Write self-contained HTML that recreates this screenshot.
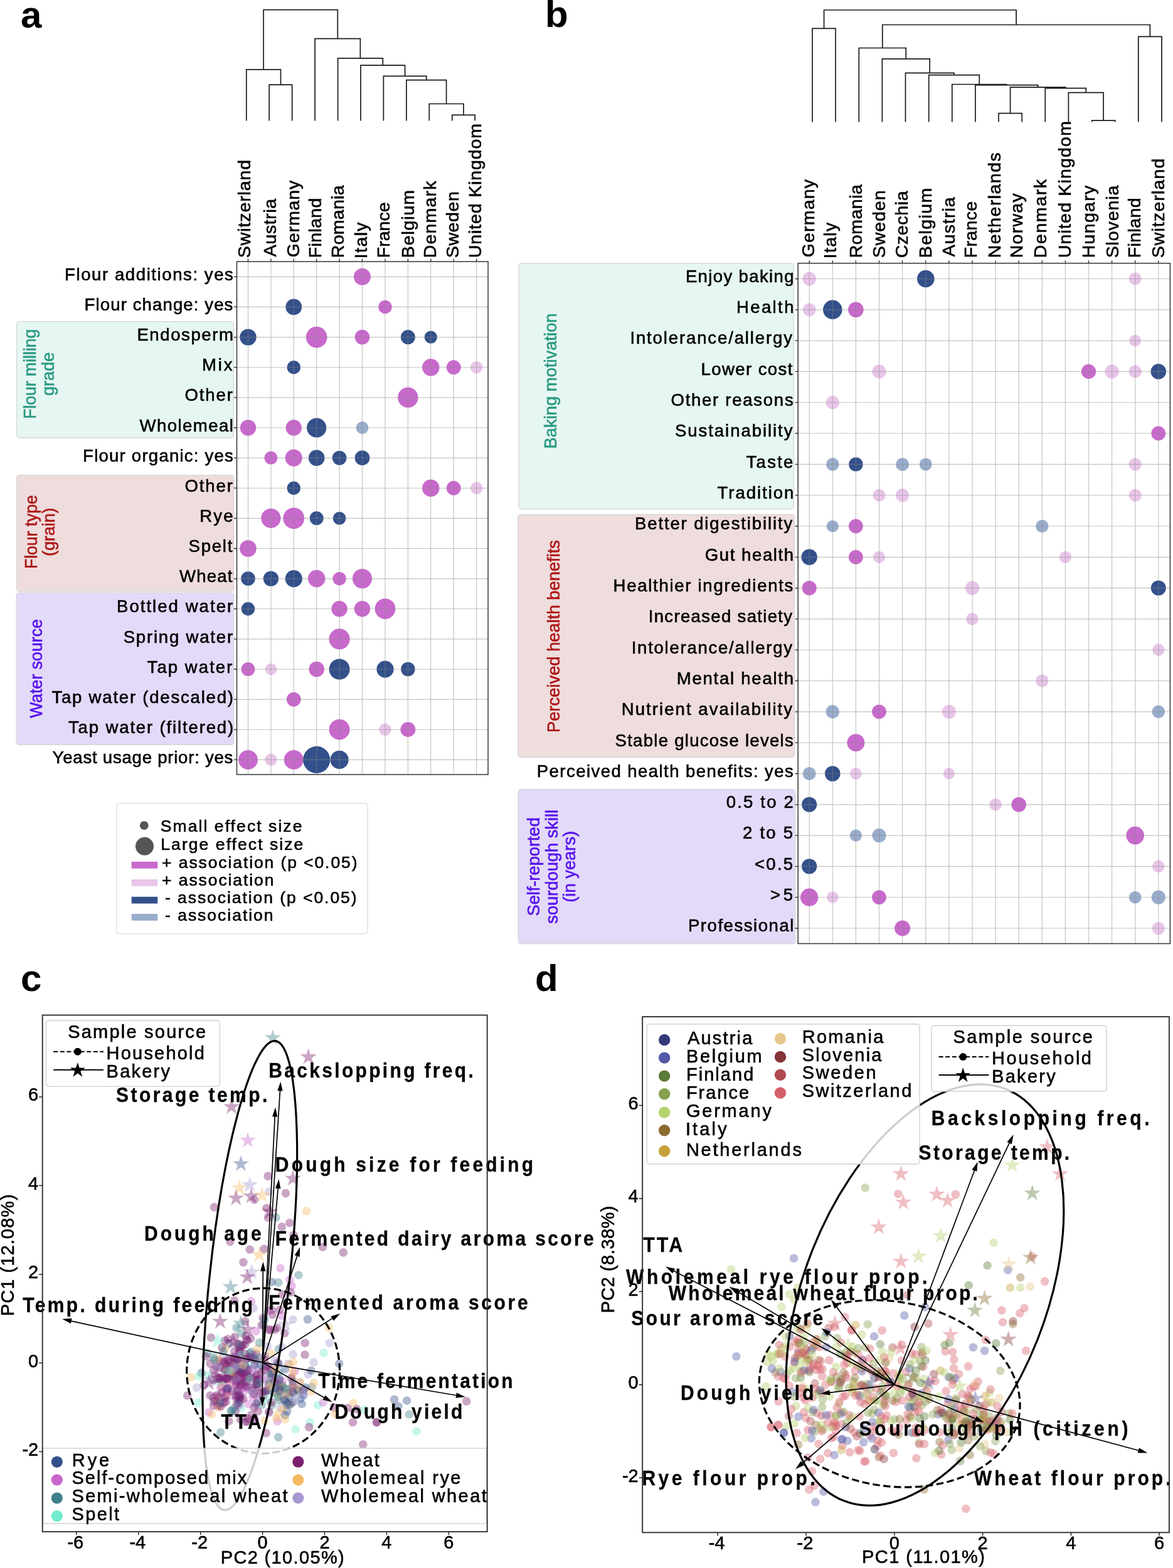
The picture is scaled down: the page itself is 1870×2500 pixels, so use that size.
<!DOCTYPE html>
<html><head><meta charset="utf-8"><title>Figure</title>
<style>html,body{margin:0;padding:0;background:#fff;} svg{display:block;} text{font-family:'Liberation Sans', Arial, sans-serif;stroke:#000;stroke-width:0.6px;} text.b{stroke-width:0.3px;} text.nb{stroke:none;} text.g1{stroke:#2a9a82;} text.g2{stroke:#ad1616;} text.g3{stroke:#5812ef;}</style>
</head><body>
<svg width="1870" height="2500" viewBox="0 0 1870 2500" font-family="Liberation Sans, Arial, sans-serif">
<rect width="1870" height="2500" fill="#fff"/>
<path d="M429.2,192.5V135.1H465.7V192.5 M392.8,192.5V110.8H447.5V135.1 M720.8,192.5V183.4H757.2V192.5 M684.3,192.5V165.5H739.0V183.4 M647.9,192.5V127.6H711.6V165.5 M611.4,192.5V121.4H679.8V127.6 M575.0,192.5V104.1H645.6V121.4 M538.6,192.5V92.9H610.3V104.1 M502.1,192.5V61.7H574.4V92.9 M420.1,110.8V15.6H538.3V61.7" fill="none" stroke="#1a1a1a" stroke-width="1.7"/>
<rect x="26.6" y="512.7" width="345.8" height="185.4" rx="4" fill="#e6f6f3" stroke="#d4d4d4" stroke-width="1.2"/>
<text class="g1" transform="translate(56.8,596.3) rotate(-90)" text-anchor="middle" font-size="27.6" fill="#2a9a82" textLength="143.3" lengthAdjust="spacingAndGlyphs">Flour milling</text>
<text class="g1" transform="translate(85.7,596.3) rotate(-90)" text-anchor="middle" font-size="27.6" fill="#2a9a82" textLength="69.5" lengthAdjust="spacingAndGlyphs">grade</text>
<rect x="26.6" y="757.5" width="346.0" height="185.4" rx="4" fill="#efdcdd" stroke="#d4d4d4" stroke-width="1.2"/>
<text class="g2" transform="translate(59.1,848.1) rotate(-90)" text-anchor="middle" font-size="27.6" fill="#ad1616" textLength="117.8" lengthAdjust="spacingAndGlyphs">Flour type</text>
<text class="g2" transform="translate(87.1,848.1) rotate(-90)" text-anchor="middle" font-size="27.6" fill="#ad1616" textLength="77.1" lengthAdjust="spacingAndGlyphs">(grain)</text>
<rect x="26.1" y="945.2" width="346.5" height="242.2" rx="4" fill="#e3dafa" stroke="#d4d4d4" stroke-width="1.2"/>
<text class="g3" transform="translate(66.8,1066) rotate(-90)" text-anchor="middle" font-size="27.6" fill="#5812ef" textLength="157.7" lengthAdjust="spacingAndGlyphs">Water source</text>
<circle cx="577.5" cy="441.3" r="13.5" fill="#c869cc"/><circle cx="468.3" cy="489.4" r="12.9" fill="#33508a"/><circle cx="614.0" cy="489.4" r="10.7" fill="#c869cc"/><circle cx="395.5" cy="537.6" r="13.2" fill="#33508a"/><circle cx="504.7" cy="537.6" r="16.9" fill="#c869cc"/><circle cx="577.5" cy="537.6" r="11.8" fill="#c869cc"/><circle cx="650.4" cy="537.6" r="11.5" fill="#33508a"/><circle cx="686.8" cy="537.6" r="10.2" fill="#33508a"/><circle cx="468.3" cy="585.7" r="10.7" fill="#33508a"/><circle cx="686.8" cy="585.7" r="13.7" fill="#c869cc"/><circle cx="723.2" cy="585.7" r="11.4" fill="#c869cc"/><circle cx="759.6" cy="585.7" r="9.8" fill="#e8c6e8"/><circle cx="650.4" cy="633.8" r="16.2" fill="#c869cc"/><circle cx="395.5" cy="682.0" r="12.7" fill="#c869cc"/><circle cx="468.3" cy="682.0" r="12.7" fill="#c869cc"/><circle cx="504.7" cy="682.0" r="15.6" fill="#33508a"/><circle cx="577.5" cy="682.0" r="9.9" fill="#99adcc"/><circle cx="431.9" cy="730.1" r="10.5" fill="#c869cc"/><circle cx="468.3" cy="730.1" r="13.6" fill="#c869cc"/><circle cx="504.7" cy="730.1" r="12.8" fill="#33508a"/><circle cx="541.1" cy="730.1" r="11.4" fill="#33508a"/><circle cx="577.5" cy="730.1" r="11.9" fill="#33508a"/><circle cx="468.3" cy="778.2" r="10.7" fill="#33508a"/><circle cx="686.8" cy="778.2" r="13.7" fill="#c869cc"/><circle cx="723.2" cy="778.2" r="11.4" fill="#c869cc"/><circle cx="759.6" cy="778.2" r="9.8" fill="#e8c6e8"/><circle cx="431.9" cy="826.3" r="15.6" fill="#c869cc"/><circle cx="468.3" cy="826.3" r="16.9" fill="#c869cc"/><circle cx="504.7" cy="826.3" r="11.0" fill="#33508a"/><circle cx="541.1" cy="826.3" r="10.4" fill="#33508a"/><circle cx="395.5" cy="874.5" r="13.3" fill="#c869cc"/><circle cx="395.5" cy="922.6" r="11.3" fill="#33508a"/><circle cx="431.9" cy="922.6" r="12.2" fill="#33508a"/><circle cx="468.3" cy="922.6" r="13.6" fill="#33508a"/><circle cx="504.7" cy="922.6" r="13.8" fill="#c869cc"/><circle cx="541.1" cy="922.6" r="10.7" fill="#c869cc"/><circle cx="577.5" cy="922.6" r="15.6" fill="#c869cc"/><circle cx="395.5" cy="970.7" r="10.7" fill="#33508a"/><circle cx="541.1" cy="970.7" r="12.7" fill="#c869cc"/><circle cx="577.5" cy="970.7" r="12.7" fill="#c869cc"/><circle cx="614.0" cy="970.7" r="16.4" fill="#c869cc"/><circle cx="541.1" cy="1018.9" r="16.6" fill="#c869cc"/><circle cx="395.5" cy="1067.0" r="10.9" fill="#c869cc"/><circle cx="431.9" cy="1067.0" r="9.3" fill="#e8c6e8"/><circle cx="504.7" cy="1067.0" r="12.3" fill="#c869cc"/><circle cx="541.1" cy="1067.0" r="16.5" fill="#33508a"/><circle cx="614.0" cy="1067.0" r="13.6" fill="#33508a"/><circle cx="650.4" cy="1067.0" r="11.2" fill="#33508a"/><circle cx="468.3" cy="1115.1" r="11.4" fill="#c869cc"/><circle cx="541.1" cy="1163.2" r="16.4" fill="#c869cc"/><circle cx="614.0" cy="1163.2" r="9.8" fill="#e8c6e8"/><circle cx="650.4" cy="1163.2" r="11.9" fill="#c869cc"/><circle cx="395.5" cy="1211.4" r="15.4" fill="#c869cc"/><circle cx="431.9" cy="1211.4" r="9.6" fill="#e8c6e8"/><circle cx="468.3" cy="1211.4" r="15.5" fill="#c869cc"/><circle cx="504.7" cy="1211.4" r="21.6" fill="#33508a"/><circle cx="541.1" cy="1211.4" r="14.6" fill="#33508a"/>
<path d="M395.5,417.1V1234.9 M431.9,417.1V1234.9 M468.3,417.1V1234.9 M504.7,417.1V1234.9 M541.1,417.1V1234.9 M577.5,417.1V1234.9 M614.0,417.1V1234.9 M650.4,417.1V1234.9 M686.8,417.1V1234.9 M723.2,417.1V1234.9 M759.6,417.1V1234.9 M377.5,441.3H778.1 M377.5,489.4H778.1 M377.5,537.6H778.1 M377.5,585.7H778.1 M377.5,633.8H778.1 M377.5,682.0H778.1 M377.5,730.1H778.1 M377.5,778.2H778.1 M377.5,826.3H778.1 M377.5,874.5H778.1 M377.5,922.6H778.1 M377.5,970.7H778.1 M377.5,1018.9H778.1 M377.5,1067.0H778.1 M377.5,1115.1H778.1 M377.5,1163.2H778.1 M377.5,1211.4H778.1" stroke="#878787" stroke-opacity="0.5" stroke-width="1.15" fill="none"/>
<path d="M373.0,441.3H377.5 M373.0,489.4H377.5 M373.0,537.6H377.5 M373.0,585.7H377.5 M373.0,633.8H377.5 M373.0,682.0H377.5 M373.0,730.1H377.5 M373.0,778.2H377.5 M373.0,826.3H377.5 M373.0,874.5H377.5 M373.0,922.6H377.5 M373.0,970.7H377.5 M373.0,1018.9H377.5 M373.0,1067.0H377.5 M373.0,1115.1H377.5 M373.0,1163.2H377.5 M373.0,1211.4H377.5 M395.5,412.6V417.1 M431.9,412.6V417.1 M468.3,412.6V417.1 M504.7,412.6V417.1 M541.1,412.6V417.1 M577.5,412.6V417.1 M614.0,412.6V417.1 M650.4,412.6V417.1 M686.8,412.6V417.1 M723.2,412.6V417.1 M759.6,412.6V417.1" stroke="#222" stroke-width="1.3"/>
<rect x="377.5" y="417.1" width="400.6" height="817.8" fill="none" stroke="#333" stroke-width="1.5"/>
<text x="103.1" y="446.9" font-size="27.6" textLength="268.8" lengthAdjust="spacing">Flour additions: yes</text>
<text x="134.6" y="495.0" font-size="27.6" textLength="236.8" lengthAdjust="spacing">Flour change: yes</text>
<text x="218.4" y="543.2" font-size="27.6" textLength="153.6" lengthAdjust="spacing">Endosperm</text>
<text x="321.9" y="591.3" font-size="27.6" textLength="48.6" lengthAdjust="spacing">Mix</text>
<text x="294.4" y="639.4" font-size="27.6" textLength="76.6" lengthAdjust="spacing">Other</text>
<text x="222.4" y="687.6" font-size="27.6" textLength="149.6" lengthAdjust="spacing">Wholemeal</text>
<text x="132.1" y="735.7" font-size="27.6" textLength="239.8" lengthAdjust="spacing">Flour organic: yes</text>
<text x="294.4" y="783.8" font-size="27.6" textLength="76.6" lengthAdjust="spacing">Other</text>
<text x="318.2" y="831.9" font-size="27.6" textLength="53.4" lengthAdjust="spacing">Rye</text>
<text x="300.6" y="880.1" font-size="27.6" textLength="69.8" lengthAdjust="spacing">Spelt</text>
<text x="285.9" y="928.2" font-size="27.6" textLength="84.6" lengthAdjust="spacing">Wheat</text>
<text x="186.0" y="976.3" font-size="27.6" textLength="185.2" lengthAdjust="spacing">Bottled water</text>
<text x="196.7" y="1024.5" font-size="27.6" textLength="174.4" lengthAdjust="spacing">Spring water</text>
<text x="234.6" y="1072.6" font-size="27.6" textLength="135.8" lengthAdjust="spacing">Tap water</text>
<text x="82.4" y="1120.7" font-size="27.6" textLength="289.6" lengthAdjust="spacing">Tap water (descaled)</text>
<text x="109.0" y="1168.8" font-size="27.6" textLength="263.2" lengthAdjust="spacing">Tap water (filtered)</text>
<text x="83.6" y="1217.0" font-size="27.6" textLength="287.8" lengthAdjust="spacing">Yeast usage prior: yes</text>
<text transform="translate(399.4,409.2) rotate(-90)" x="-2.0" font-size="28.5" textLength="156.4" lengthAdjust="spacing">Switzerland</text>
<text transform="translate(439.5,409.2) rotate(-90)" x="0.0" font-size="28.5" textLength="92.4" lengthAdjust="spacing">Austria</text>
<text transform="translate(476.7,409.2) rotate(-90)" x="-1.0" font-size="28.5" textLength="122.4" lengthAdjust="spacing">Germany</text>
<text transform="translate(512.0,409.2) rotate(-90)" x="-2.0" font-size="28.5" textLength="95.6" lengthAdjust="spacing">Finland</text>
<text transform="translate(547.9,409.2) rotate(-90)" x="-2.0" font-size="28.5" textLength="115.8" lengthAdjust="spacing">Romania</text>
<text transform="translate(584.6,409.2) rotate(-90)" x="-3.0" font-size="28.5" textLength="57.8" lengthAdjust="spacing">Italy</text>
<text transform="translate(621.1,409.2) rotate(-90)" x="-2.0" font-size="28.5" textLength="88.8" lengthAdjust="spacing">France</text>
<text transform="translate(659.5,409.2) rotate(-90)" x="-2.0" font-size="28.5" textLength="108.2" lengthAdjust="spacing">Belgium</text>
<text transform="translate(695.4,409.2) rotate(-90)" x="-2.0" font-size="28.5" textLength="122.6" lengthAdjust="spacing">Denmark</text>
<text transform="translate(731.3,409.2) rotate(-90)" x="-2.0" font-size="28.5" textLength="106.0" lengthAdjust="spacing">Sweden</text>
<text transform="translate(766.5,409.2) rotate(-90)" x="-2.0" font-size="28.5" textLength="214.2" lengthAdjust="spacing">United Kingdom</text>
<rect x="185.6" y="1280.9" width="400.6" height="207.9" rx="5" fill="#fff" stroke="#dcdcdc" stroke-width="1.3"/>
<circle cx="229.8" cy="1316.2" r="6.9" fill="#555"/><circle cx="230.5" cy="1349.2" r="14.5" fill="#555"/>
<rect x="209.7" y="1373.9" width="41.6" height="10.8" fill="#c869cc"/>
<rect x="209.7" y="1402" width="41.6" height="10.8" fill="#e8c6e8"/>
<rect x="209.7" y="1429.8" width="41.6" height="10.8" fill="#33508a"/>
<rect x="209.7" y="1457" width="41.6" height="10.8" fill="#99adcc"/>
<text x="255.8" y="1325.9" font-size="26.5" textLength="225.6" lengthAdjust="spacing" xml:space="preserve">Small effect size</text>
<text x="256.3" y="1354.6" font-size="26.5" textLength="227.0" lengthAdjust="spacing" xml:space="preserve">Large effect size</text>
<text x="258.1" y="1384.3" font-size="26.5" textLength="311.4" lengthAdjust="spacing" xml:space="preserve">+ association (p &lt;0.05)</text>
<text x="258.1" y="1412.1" font-size="26.5" textLength="178.4" lengthAdjust="spacing" xml:space="preserve">+ association</text>
<text x="263.0" y="1440.2" font-size="26.5" textLength="305.6" lengthAdjust="spacing" xml:space="preserve">- association (p &lt;0.05)</text>
<text x="263.0" y="1467.5" font-size="26.5" textLength="172.6" lengthAdjust="spacing" xml:space="preserve">- association</text>
<path d="M1740.6,194.5V192.1H1777.7V194.5 M1592.0,194.5V180.7H1629.2V194.5 M1703.4,194.5V147.6H1759.1V192.1 M1666.3,194.5V140.6H1731.3V147.6 M1610.6,180.7V139.1H1698.8V140.6 M1554.9,194.5V135.7H1654.7V139.1 M1517.8,194.5V134.5H1604.8V135.7 M1480.7,194.5V119.7H1561.3V134.5 M1443.5,194.5V116.4H1521.0V119.7 M1406.4,194.5V93.9H1482.2V116.4 M1369.3,194.5V76.5H1444.3V93.9 M1814.8,194.5V58.4H1852.0V194.5 M1295.0,194.5V45.3H1332.1V194.5 M1406.8,76.5V39.5H1833.4V58.4 M1313.6,45.3V16.0H1620.1V39.5" fill="none" stroke="#1a1a1a" stroke-width="1.7"/>
<rect x="827.1" y="419.9" width="438.2" height="391.7" rx="4" fill="#e6f6f3" stroke="#d4d4d4" stroke-width="1.2"/>
<text class="g1" transform="translate(886.8,607.4) rotate(-90)" text-anchor="middle" font-size="27.6" fill="#2a9a82" textLength="216.0" lengthAdjust="spacingAndGlyphs">Baking motivation</text>
<rect x="825.7" y="820.4" width="440.8" height="387.2" rx="4" fill="#efdcdd" stroke="#d4d4d4" stroke-width="1.2"/>
<text class="g2" transform="translate(892.0,1014.5) rotate(-90)" text-anchor="middle" font-size="27.6" fill="#ad1616" textLength="307.1" lengthAdjust="spacingAndGlyphs">Perceived health benefits</text>
<rect x="826.2" y="1258.7" width="441.4" height="246.0" rx="4" fill="#e3dafa" stroke="#d4d4d4" stroke-width="1.2"/>
<text class="g3" transform="translate(860.2,1381.8) rotate(-90)" text-anchor="middle" font-size="27.6" fill="#5812ef" textLength="157.3" lengthAdjust="spacingAndGlyphs">Self-reported</text>
<text class="g3" transform="translate(888.8,1381.8) rotate(-90)" text-anchor="middle" font-size="27.6" fill="#5812ef" textLength="181.8" lengthAdjust="spacingAndGlyphs">sourdough skill</text>
<text class="g3" transform="translate(916.8,1381.8) rotate(-90)" text-anchor="middle" font-size="27.6" fill="#5812ef" textLength="113.9" lengthAdjust="spacingAndGlyphs">(in years)</text>
<circle cx="1290.2" cy="444.5" r="10.9" fill="#e8c6e8"/><circle cx="1475.8" cy="444.5" r="13.8" fill="#33508a"/><circle cx="1809.7" cy="444.5" r="10.0" fill="#e8c6e8"/><circle cx="1290.2" cy="493.8" r="10.5" fill="#e8c6e8"/><circle cx="1327.3" cy="493.8" r="15.2" fill="#33508a"/><circle cx="1364.4" cy="493.8" r="12.3" fill="#c869cc"/><circle cx="1809.7" cy="543.1" r="9.4" fill="#e8c6e8"/><circle cx="1401.5" cy="592.4" r="11.1" fill="#e8c6e8"/><circle cx="1735.5" cy="592.4" r="11.6" fill="#c869cc"/><circle cx="1772.6" cy="592.4" r="11.2" fill="#e8c6e8"/><circle cx="1809.7" cy="592.4" r="10.2" fill="#e8c6e8"/><circle cx="1846.8" cy="592.4" r="12.3" fill="#33508a"/><circle cx="1327.3" cy="641.7" r="10.7" fill="#e8c6e8"/><circle cx="1846.8" cy="691.0" r="11.4" fill="#c869cc"/><circle cx="1327.3" cy="740.4" r="10.3" fill="#99adcc"/><circle cx="1364.4" cy="740.4" r="11.2" fill="#33508a"/><circle cx="1438.6" cy="740.4" r="10.5" fill="#99adcc"/><circle cx="1475.8" cy="740.4" r="10.0" fill="#99adcc"/><circle cx="1809.7" cy="740.4" r="10.2" fill="#e8c6e8"/><circle cx="1401.5" cy="789.7" r="10.0" fill="#e8c6e8"/><circle cx="1438.6" cy="789.7" r="10.7" fill="#e8c6e8"/><circle cx="1809.7" cy="789.7" r="10.2" fill="#e8c6e8"/><circle cx="1327.3" cy="839.0" r="9.6" fill="#99adcc"/><circle cx="1364.4" cy="839.0" r="11.4" fill="#c869cc"/><circle cx="1661.3" cy="839.0" r="10.2" fill="#99adcc"/><circle cx="1290.2" cy="888.3" r="12.7" fill="#33508a"/><circle cx="1364.4" cy="888.3" r="11.4" fill="#c869cc"/><circle cx="1401.5" cy="888.3" r="9.6" fill="#e8c6e8"/><circle cx="1698.4" cy="888.3" r="9.6" fill="#e8c6e8"/><circle cx="1290.2" cy="937.6" r="11.6" fill="#c869cc"/><circle cx="1550.0" cy="937.6" r="11.2" fill="#e8c6e8"/><circle cx="1846.8" cy="937.6" r="12.0" fill="#33508a"/><circle cx="1550.0" cy="986.9" r="9.8" fill="#e8c6e8"/><circle cx="1846.8" cy="1036.2" r="9.6" fill="#e8c6e8"/><circle cx="1661.3" cy="1085.5" r="10.2" fill="#e8c6e8"/><circle cx="1327.3" cy="1134.8" r="10.7" fill="#99adcc"/><circle cx="1401.5" cy="1134.8" r="11.4" fill="#c869cc"/><circle cx="1512.9" cy="1134.8" r="11.1" fill="#e8c6e8"/><circle cx="1846.8" cy="1134.8" r="10.3" fill="#99adcc"/><circle cx="1364.4" cy="1184.2" r="14.0" fill="#c869cc"/><circle cx="1290.2" cy="1233.5" r="10.5" fill="#99adcc"/><circle cx="1327.3" cy="1233.5" r="12.3" fill="#33508a"/><circle cx="1364.4" cy="1233.5" r="9.4" fill="#e8c6e8"/><circle cx="1512.9" cy="1233.5" r="9.2" fill="#e8c6e8"/><circle cx="1290.2" cy="1282.8" r="12.1" fill="#33508a"/><circle cx="1587.1" cy="1282.8" r="9.8" fill="#e8c6e8"/><circle cx="1624.2" cy="1282.8" r="11.8" fill="#c869cc"/><circle cx="1364.4" cy="1332.1" r="9.6" fill="#99adcc"/><circle cx="1401.5" cy="1332.1" r="11.1" fill="#99adcc"/><circle cx="1809.7" cy="1332.1" r="14.3" fill="#c869cc"/><circle cx="1290.2" cy="1381.4" r="12.1" fill="#33508a"/><circle cx="1846.8" cy="1381.4" r="9.8" fill="#e8c6e8"/><circle cx="1290.2" cy="1430.7" r="14.1" fill="#c869cc"/><circle cx="1327.3" cy="1430.7" r="9.4" fill="#e8c6e8"/><circle cx="1401.5" cy="1430.7" r="11.4" fill="#c869cc"/><circle cx="1809.7" cy="1430.7" r="9.8" fill="#99adcc"/><circle cx="1846.8" cy="1430.7" r="11.1" fill="#99adcc"/><circle cx="1438.6" cy="1480.0" r="12.5" fill="#c869cc"/><circle cx="1846.8" cy="1480.0" r="10.3" fill="#e8c6e8"/>
<path d="M1290.2,419.7V1504.5 M1327.3,419.7V1504.5 M1364.4,419.7V1504.5 M1401.5,419.7V1504.5 M1438.6,419.7V1504.5 M1475.8,419.7V1504.5 M1512.9,419.7V1504.5 M1550.0,419.7V1504.5 M1587.1,419.7V1504.5 M1624.2,419.7V1504.5 M1661.3,419.7V1504.5 M1698.4,419.7V1504.5 M1735.5,419.7V1504.5 M1772.6,419.7V1504.5 M1809.7,419.7V1504.5 M1846.8,419.7V1504.5 M1272.2,444.5H1865.4 M1272.2,493.8H1865.4 M1272.2,543.1H1865.4 M1272.2,592.4H1865.4 M1272.2,641.7H1865.4 M1272.2,691.0H1865.4 M1272.2,740.4H1865.4 M1272.2,789.7H1865.4 M1272.2,839.0H1865.4 M1272.2,888.3H1865.4 M1272.2,937.6H1865.4 M1272.2,986.9H1865.4 M1272.2,1036.2H1865.4 M1272.2,1085.5H1865.4 M1272.2,1134.8H1865.4 M1272.2,1184.2H1865.4 M1272.2,1233.5H1865.4 M1272.2,1282.8H1865.4 M1272.2,1332.1H1865.4 M1272.2,1381.4H1865.4 M1272.2,1430.7H1865.4 M1272.2,1480.0H1865.4" stroke="#878787" stroke-opacity="0.5" stroke-width="1.15" fill="none"/>
<path d="M1267.7,444.5H1272.2 M1267.7,493.8H1272.2 M1267.7,543.1H1272.2 M1267.7,592.4H1272.2 M1267.7,641.7H1272.2 M1267.7,691.0H1272.2 M1267.7,740.4H1272.2 M1267.7,789.7H1272.2 M1267.7,839.0H1272.2 M1267.7,888.3H1272.2 M1267.7,937.6H1272.2 M1267.7,986.9H1272.2 M1267.7,1036.2H1272.2 M1267.7,1085.5H1272.2 M1267.7,1134.8H1272.2 M1267.7,1184.2H1272.2 M1267.7,1233.5H1272.2 M1267.7,1282.8H1272.2 M1267.7,1332.1H1272.2 M1267.7,1381.4H1272.2 M1267.7,1430.7H1272.2 M1267.7,1480.0H1272.2 M1290.2,415.2V419.7 M1327.3,415.2V419.7 M1364.4,415.2V419.7 M1401.5,415.2V419.7 M1438.6,415.2V419.7 M1475.8,415.2V419.7 M1512.9,415.2V419.7 M1550.0,415.2V419.7 M1587.1,415.2V419.7 M1624.2,415.2V419.7 M1661.3,415.2V419.7 M1698.4,415.2V419.7 M1735.5,415.2V419.7 M1772.6,415.2V419.7 M1809.7,415.2V419.7 M1846.8,415.2V419.7" stroke="#222" stroke-width="1.3"/>
<rect x="1272.2" y="419.7" width="593.2" height="1084.8" fill="none" stroke="#333" stroke-width="1.5"/>
<text x="1092.9" y="449.8" font-size="27.6" textLength="172.6" lengthAdjust="spacing">Enjoy baking</text>
<text x="1173.9" y="499.1" font-size="27.6" textLength="91.6" lengthAdjust="spacing">Health</text>
<text x="1004.4" y="548.4" font-size="27.6" textLength="258.6" lengthAdjust="spacing">Intolerance/allergy</text>
<text x="1117.6" y="597.7" font-size="27.6" textLength="145.8" lengthAdjust="spacing">Lower cost</text>
<text x="1069.5" y="647.0" font-size="27.6" textLength="195.2" lengthAdjust="spacing">Other reasons</text>
<text x="1075.9" y="696.3" font-size="27.6" textLength="187.6" lengthAdjust="spacing">Sustainability</text>
<text x="1189.6" y="745.7" font-size="27.6" textLength="74.8" lengthAdjust="spacing">Taste</text>
<text x="1143.6" y="795.0" font-size="27.6" textLength="121.8" lengthAdjust="spacing">Tradition</text>
<text x="1012.0" y="844.3" font-size="27.6" textLength="251.2" lengthAdjust="spacing">Better digestibility</text>
<text x="1123.7" y="893.6" font-size="27.6" textLength="141.4" lengthAdjust="spacing">Gut health</text>
<text x="977.6" y="942.9" font-size="27.6" textLength="286.8" lengthAdjust="spacing">Healthier ingredients</text>
<text x="1033.7" y="992.2" font-size="27.6" textLength="229.4" lengthAdjust="spacing">Increased satiety</text>
<text x="1006.7" y="1041.5" font-size="27.6" textLength="256.4" lengthAdjust="spacing">Intolerance/allergy</text>
<text x="1078.7" y="1090.8" font-size="27.6" textLength="186.4" lengthAdjust="spacing">Mental health</text>
<text x="990.7" y="1140.1" font-size="27.6" textLength="272.4" lengthAdjust="spacing">Nutrient availability</text>
<text x="980.5" y="1189.5" font-size="27.6" textLength="284.2" lengthAdjust="spacing">Stable glucose levels</text>
<text x="855.8" y="1238.8" font-size="27.6" textLength="409.0" lengthAdjust="spacing">Perceived health benefits: yes</text>
<text x="1157.8" y="1288.1" font-size="27.6" textLength="107.0" lengthAdjust="spacing">0.5 to 2</text>
<text x="1184.0" y="1337.4" font-size="27.6" textLength="80.2" lengthAdjust="spacing">2 to 5</text>
<text x="1203.0" y="1386.7" font-size="27.6" textLength="61.2" lengthAdjust="spacing">&lt;0.5</text>
<text x="1228.0" y="1436.0" font-size="27.6" textLength="36.2" lengthAdjust="spacing">&gt;5</text>
<text x="1096.9" y="1485.3" font-size="27.6" textLength="168.6" lengthAdjust="spacing">Professional</text>
<text transform="translate(1297.7,409.3) rotate(-90)" x="-1.0" font-size="28.5" textLength="124.4" lengthAdjust="spacing">Germany</text>
<text transform="translate(1333.4,409.3) rotate(-90)" x="-3.0" font-size="28.5" textLength="57.6" lengthAdjust="spacing">Italy</text>
<text transform="translate(1374.4,409.3) rotate(-90)" x="-2.0" font-size="28.5" textLength="117.2" lengthAdjust="spacing">Romania</text>
<text transform="translate(1411.0,409.3) rotate(-90)" x="-2.0" font-size="28.5" textLength="107.8" lengthAdjust="spacing">Sweden</text>
<text transform="translate(1447.2,409.3) rotate(-90)" x="-2.0" font-size="28.5" textLength="106.8" lengthAdjust="spacing">Czechia</text>
<text transform="translate(1485.2,409.3) rotate(-90)" x="-2.0" font-size="28.5" textLength="111.6" lengthAdjust="spacing">Belgium</text>
<text transform="translate(1521.6,409.3) rotate(-90)" x="0.0" font-size="28.5" textLength="95.0" lengthAdjust="spacing">Austria</text>
<text transform="translate(1557.4,409.3) rotate(-90)" x="-2.0" font-size="28.5" textLength="90.4" lengthAdjust="spacing">France</text>
<text transform="translate(1595.0,409.3) rotate(-90)" x="-2.0" font-size="28.5" textLength="168.0" lengthAdjust="spacing">Netherlands</text>
<text transform="translate(1630.3,409.3) rotate(-90)" x="-2.0" font-size="28.5" textLength="103.0" lengthAdjust="spacing">Norway</text>
<text transform="translate(1667.5,409.3) rotate(-90)" x="-2.0" font-size="28.5" textLength="125.4" lengthAdjust="spacing">Denmark</text>
<text transform="translate(1707.0,409.3) rotate(-90)" x="-2.0" font-size="28.5" textLength="218.2" lengthAdjust="spacing">United Kingdom</text>
<text transform="translate(1745.4,409.3) rotate(-90)" x="-2.0" font-size="28.5" textLength="115.6" lengthAdjust="spacing">Hungary</text>
<text transform="translate(1783.1,409.3) rotate(-90)" x="-2.0" font-size="28.5" textLength="115.6" lengthAdjust="spacing">Slovenia</text>
<text transform="translate(1817.9,409.3) rotate(-90)" x="-2.0" font-size="28.5" textLength="95.8" lengthAdjust="spacing">Finland</text>
<text transform="translate(1855.5,409.3) rotate(-90)" x="-2.0" font-size="28.5" textLength="158.6" lengthAdjust="spacing">Switzerland</text>
<defs><clipPath id="clipc"><rect x="67.7" y="1618.5" width="709" height="823.7"/></clipPath><clipPath id="clipd"><rect x="1024.2" y="1621.1" width="839.7" height="822.3"/></clipPath></defs>
<g clip-path="url(#clipc)">
<g fill-opacity="0.4"><circle cx="382.0" cy="2209.9" r="6.8" fill="#7b1e6e"/><circle cx="358.0" cy="2185.0" r="6.8" fill="#3f7f8a"/><circle cx="355.2" cy="2202.0" r="6.8" fill="#7b1e6e"/><circle cx="368.7" cy="2179.5" r="6.8" fill="#3f7f8a"/><circle cx="395.2" cy="2211.8" r="6.8" fill="#34508a"/><circle cx="356.9" cy="2199.0" r="6.8" fill="#7b1e6e"/><circle cx="400.8" cy="2155.6" r="6.8" fill="#3f7f8a"/><circle cx="330.7" cy="2157.4" r="6.8" fill="#3f7f8a"/><circle cx="332.3" cy="2192.2" r="6.8" fill="#72eccc"/><circle cx="389.3" cy="2205.2" r="6.8" fill="#c865cc"/><circle cx="377.0" cy="2116.9" r="6.8" fill="#3f7f8a"/><circle cx="380.7" cy="2203.7" r="6.8" fill="#f5b962"/><circle cx="340.7" cy="2184.2" r="6.8" fill="#7b1e6e"/><circle cx="360.2" cy="2235.0" r="6.8" fill="#7b1e6e"/><circle cx="360.2" cy="2198.9" r="6.8" fill="#c865cc"/><circle cx="366.2" cy="2196.3" r="6.8" fill="#3f7f8a"/><circle cx="385.0" cy="2202.1" r="6.8" fill="#a898d0"/><circle cx="384.1" cy="2244.8" r="6.8" fill="#72eccc"/><circle cx="340.2" cy="2228.4" r="6.8" fill="#34508a"/><circle cx="364.7" cy="2266.0" r="6.8" fill="#7b1e6e"/><circle cx="402.6" cy="2160.4" r="6.8" fill="#c865cc"/><circle cx="397.6" cy="2193.8" r="6.8" fill="#7b1e6e"/><circle cx="400.4" cy="2197.8" r="6.8" fill="#7b1e6e"/><circle cx="420.8" cy="2177.7" r="6.8" fill="#a898d0"/><circle cx="387.5" cy="2184.7" r="6.8" fill="#a898d0"/><circle cx="349.9" cy="2180.9" r="6.8" fill="#7b1e6e"/><circle cx="376.7" cy="2229.7" r="6.8" fill="#7b1e6e"/><circle cx="346.3" cy="2173.8" r="6.8" fill="#a898d0"/><circle cx="399.5" cy="2134.3" r="6.8" fill="#7b1e6e"/><circle cx="379.4" cy="2241.5" r="6.8" fill="#c865cc"/><circle cx="400.6" cy="2189.2" r="6.8" fill="#a898d0"/><circle cx="375.2" cy="2250.3" r="6.8" fill="#7b1e6e"/><circle cx="370.4" cy="2190.0" r="6.8" fill="#7b1e6e"/><circle cx="378.7" cy="2193.5" r="6.8" fill="#7b1e6e"/><circle cx="351.9" cy="2199.6" r="6.8" fill="#a898d0"/><circle cx="413.5" cy="2221.6" r="6.8" fill="#7b1e6e"/><circle cx="381.3" cy="2222.1" r="6.8" fill="#34508a"/><circle cx="410.4" cy="2199.8" r="6.8" fill="#7b1e6e"/><circle cx="397.8" cy="2157.4" r="6.8" fill="#3f7f8a"/><circle cx="336.4" cy="2132.8" r="6.8" fill="#7b1e6e"/><circle cx="373.8" cy="2170.3" r="6.8" fill="#7b1e6e"/><circle cx="442.6" cy="2172.6" r="6.8" fill="#7b1e6e"/><circle cx="365.2" cy="2206.8" r="6.8" fill="#f5b962"/><circle cx="377.2" cy="2193.2" r="6.8" fill="#7b1e6e"/><circle cx="401.0" cy="2217.2" r="6.8" fill="#7b1e6e"/><circle cx="379.9" cy="2201.2" r="6.8" fill="#a898d0"/><circle cx="353.5" cy="2208.6" r="6.8" fill="#72eccc"/><circle cx="408.2" cy="2206.4" r="6.8" fill="#7b1e6e"/><circle cx="384.4" cy="2180.5" r="6.8" fill="#a898d0"/><circle cx="328.1" cy="2162.7" r="6.8" fill="#7b1e6e"/><circle cx="391.8" cy="2129.8" r="6.8" fill="#7b1e6e"/><circle cx="334.9" cy="2225.0" r="6.8" fill="#7b1e6e"/><circle cx="359.2" cy="2225.7" r="6.8" fill="#7b1e6e"/><circle cx="340.5" cy="2241.2" r="6.8" fill="#7b1e6e"/><circle cx="420.9" cy="2197.8" r="6.8" fill="#a898d0"/><circle cx="377.7" cy="2167.8" r="6.8" fill="#7b1e6e"/><circle cx="411.7" cy="2182.1" r="6.8" fill="#a898d0"/><circle cx="360.6" cy="2179.3" r="6.8" fill="#f5b962"/><circle cx="347.5" cy="2241.5" r="6.8" fill="#7b1e6e"/><circle cx="408.1" cy="2200.4" r="6.8" fill="#7b1e6e"/><circle cx="363.3" cy="2189.2" r="6.8" fill="#7b1e6e"/><circle cx="382.2" cy="2187.6" r="6.8" fill="#34508a"/><circle cx="373.9" cy="2154.5" r="6.8" fill="#7b1e6e"/><circle cx="426.7" cy="2177.8" r="6.8" fill="#7b1e6e"/><circle cx="353.5" cy="2211.1" r="6.8" fill="#f5b962"/><circle cx="342.7" cy="2193.1" r="6.8" fill="#7b1e6e"/><circle cx="364.9" cy="2141.9" r="6.8" fill="#34508a"/><circle cx="381.4" cy="2202.4" r="6.8" fill="#7b1e6e"/><circle cx="361.7" cy="2215.0" r="6.8" fill="#c865cc"/><circle cx="378.1" cy="2163.4" r="6.8" fill="#7b1e6e"/><circle cx="349.2" cy="2244.1" r="6.8" fill="#f5b962"/><circle cx="389.9" cy="2198.9" r="6.8" fill="#f5b962"/><circle cx="370.1" cy="2183.2" r="6.8" fill="#7b1e6e"/><circle cx="373.8" cy="2195.0" r="6.8" fill="#7b1e6e"/><circle cx="382.6" cy="2238.8" r="6.8" fill="#a898d0"/><circle cx="392.3" cy="2181.4" r="6.8" fill="#7b1e6e"/><circle cx="344.7" cy="2231.3" r="6.8" fill="#7b1e6e"/><circle cx="378.2" cy="2217.9" r="6.8" fill="#c865cc"/><circle cx="403.1" cy="2227.4" r="6.8" fill="#c865cc"/><circle cx="369.7" cy="2250.0" r="6.8" fill="#3f7f8a"/><circle cx="348.3" cy="2228.4" r="6.8" fill="#7b1e6e"/><circle cx="405.6" cy="2262.0" r="6.8" fill="#7b1e6e"/><circle cx="422.1" cy="2162.2" r="6.8" fill="#7b1e6e"/><circle cx="404.1" cy="2166.5" r="6.8" fill="#7b1e6e"/><circle cx="381.7" cy="2227.7" r="6.8" fill="#7b1e6e"/><circle cx="325.0" cy="2208.6" r="6.8" fill="#7b1e6e"/><circle cx="383.2" cy="2191.9" r="6.8" fill="#34508a"/><circle cx="358.8" cy="2150.1" r="6.8" fill="#f5b962"/><circle cx="377.5" cy="2167.9" r="6.8" fill="#3f7f8a"/><circle cx="395.7" cy="2198.0" r="6.8" fill="#7b1e6e"/><circle cx="393.0" cy="2167.4" r="6.8" fill="#7b1e6e"/><circle cx="355.0" cy="2170.7" r="6.8" fill="#7b1e6e"/><circle cx="387.3" cy="2174.2" r="6.8" fill="#7b1e6e"/><circle cx="391.2" cy="2266.8" r="6.8" fill="#7b1e6e"/><circle cx="344.4" cy="2229.3" r="6.8" fill="#f5b962"/><circle cx="381.6" cy="2152.2" r="6.8" fill="#7b1e6e"/><circle cx="369.6" cy="2224.5" r="6.8" fill="#c865cc"/><circle cx="384.2" cy="2190.4" r="6.8" fill="#7b1e6e"/><circle cx="413.2" cy="2199.3" r="6.8" fill="#7b1e6e"/><circle cx="363.3" cy="2135.0" r="6.8" fill="#7b1e6e"/><circle cx="383.3" cy="2161.3" r="6.8" fill="#7b1e6e"/><circle cx="356.6" cy="2237.3" r="6.8" fill="#7b1e6e"/><circle cx="383.3" cy="2198.2" r="6.8" fill="#34508a"/><circle cx="383.0" cy="2226.6" r="6.8" fill="#34508a"/><circle cx="387.8" cy="2165.6" r="6.8" fill="#f5b962"/><circle cx="395.8" cy="2177.4" r="6.8" fill="#72eccc"/><circle cx="347.7" cy="2195.5" r="6.8" fill="#7b1e6e"/><circle cx="381.8" cy="2156.3" r="6.8" fill="#7b1e6e"/><circle cx="421.4" cy="2184.7" r="6.8" fill="#7b1e6e"/><circle cx="402.8" cy="2212.5" r="6.8" fill="#7b1e6e"/><circle cx="388.8" cy="2198.0" r="6.8" fill="#7b1e6e"/><circle cx="384.2" cy="2164.5" r="6.8" fill="#7b1e6e"/><circle cx="377.2" cy="2239.2" r="6.8" fill="#7b1e6e"/><circle cx="391.0" cy="2199.8" r="6.8" fill="#f5b962"/><circle cx="367.0" cy="2187.1" r="6.8" fill="#7b1e6e"/><circle cx="332.9" cy="2251.8" r="6.8" fill="#c865cc"/><circle cx="406.8" cy="2222.1" r="6.8" fill="#a898d0"/><circle cx="385.0" cy="2207.1" r="6.8" fill="#7b1e6e"/><circle cx="376.5" cy="2201.8" r="6.8" fill="#7b1e6e"/><circle cx="422.8" cy="2218.3" r="6.8" fill="#7b1e6e"/><circle cx="366.4" cy="2179.0" r="6.8" fill="#7b1e6e"/><circle cx="425.3" cy="2216.7" r="6.8" fill="#7b1e6e"/><circle cx="372.7" cy="2163.4" r="6.8" fill="#7b1e6e"/><circle cx="380.2" cy="2228.8" r="6.8" fill="#7b1e6e"/><circle cx="375.9" cy="2192.7" r="6.8" fill="#f5b962"/><circle cx="385.0" cy="2147.4" r="6.8" fill="#7b1e6e"/><circle cx="358.9" cy="2229.2" r="6.8" fill="#7b1e6e"/><circle cx="361.2" cy="2219.0" r="6.8" fill="#c865cc"/><circle cx="373.5" cy="2180.1" r="6.8" fill="#a898d0"/><circle cx="387.2" cy="2199.9" r="6.8" fill="#72eccc"/><circle cx="394.4" cy="2266.5" r="6.8" fill="#7b1e6e"/><circle cx="375.0" cy="2193.3" r="6.8" fill="#7b1e6e"/><circle cx="390.6" cy="2158.8" r="6.8" fill="#7b1e6e"/><circle cx="352.1" cy="2242.2" r="6.8" fill="#7b1e6e"/><circle cx="411.2" cy="2250.3" r="6.8" fill="#7b1e6e"/><circle cx="389.0" cy="2218.3" r="6.8" fill="#c865cc"/><circle cx="376.7" cy="2180.4" r="6.8" fill="#7b1e6e"/><circle cx="345.5" cy="2201.4" r="6.8" fill="#72eccc"/><circle cx="407.9" cy="2168.9" r="6.8" fill="#7b1e6e"/><circle cx="358.9" cy="2183.4" r="6.8" fill="#7b1e6e"/><circle cx="376.5" cy="2207.1" r="6.8" fill="#c865cc"/><circle cx="390.0" cy="2190.1" r="6.8" fill="#34508a"/><circle cx="387.6" cy="2197.2" r="6.8" fill="#c865cc"/><circle cx="395.6" cy="2261.7" r="6.8" fill="#7b1e6e"/><circle cx="383.5" cy="2144.4" r="6.8" fill="#7b1e6e"/><circle cx="392.5" cy="2135.8" r="6.8" fill="#7b1e6e"/><circle cx="405.1" cy="2223.3" r="6.8" fill="#7b1e6e"/><circle cx="378.0" cy="2143.6" r="6.8" fill="#7b1e6e"/><circle cx="363.7" cy="2221.0" r="6.8" fill="#f5b962"/><circle cx="443.0" cy="2207.2" r="6.8" fill="#7b1e6e"/><circle cx="350.4" cy="2198.1" r="6.8" fill="#7b1e6e"/><circle cx="377.2" cy="2162.0" r="6.8" fill="#a898d0"/><circle cx="350.9" cy="2236.7" r="6.8" fill="#34508a"/><circle cx="410.7" cy="2235.8" r="6.8" fill="#7b1e6e"/><circle cx="395.9" cy="2195.6" r="6.8" fill="#7b1e6e"/><circle cx="371.5" cy="2188.8" r="6.8" fill="#3f7f8a"/><circle cx="343.0" cy="2226.2" r="6.8" fill="#c865cc"/><circle cx="376.8" cy="2207.1" r="6.8" fill="#7b1e6e"/><circle cx="335.2" cy="2174.1" r="6.8" fill="#7b1e6e"/><circle cx="386.7" cy="2212.9" r="6.8" fill="#c865cc"/><circle cx="409.8" cy="2206.9" r="6.8" fill="#3f7f8a"/><circle cx="349.2" cy="2169.3" r="6.8" fill="#7b1e6e"/><circle cx="394.5" cy="2137.3" r="6.8" fill="#7b1e6e"/><circle cx="418.4" cy="2219.7" r="6.8" fill="#7b1e6e"/><circle cx="371.6" cy="2190.2" r="6.8" fill="#7b1e6e"/><circle cx="351.6" cy="2283.7" r="6.8" fill="#3f7f8a"/><circle cx="424.9" cy="2178.6" r="6.8" fill="#7b1e6e"/><circle cx="386.4" cy="2144.8" r="6.8" fill="#7b1e6e"/><circle cx="408.6" cy="2158.7" r="6.8" fill="#7b1e6e"/><circle cx="411.0" cy="2211.1" r="6.8" fill="#7b1e6e"/><circle cx="368.5" cy="2184.9" r="6.8" fill="#a898d0"/><circle cx="380.7" cy="2182.3" r="6.8" fill="#34508a"/><circle cx="373.8" cy="2166.1" r="6.8" fill="#7b1e6e"/><circle cx="347.2" cy="2198.4" r="6.8" fill="#7b1e6e"/><circle cx="340.7" cy="2200.1" r="6.8" fill="#7b1e6e"/><circle cx="364.5" cy="2167.8" r="6.8" fill="#7b1e6e"/><circle cx="368.0" cy="2249.4" r="6.8" fill="#3f7f8a"/><circle cx="360.9" cy="2212.8" r="6.8" fill="#c865cc"/><circle cx="361.6" cy="2219.4" r="6.8" fill="#c865cc"/><circle cx="377.8" cy="2219.9" r="6.8" fill="#a898d0"/><circle cx="352.7" cy="2196.6" r="6.8" fill="#7b1e6e"/><circle cx="383.4" cy="2231.6" r="6.8" fill="#7b1e6e"/><circle cx="380.9" cy="2143.2" r="6.8" fill="#3f7f8a"/><circle cx="399.6" cy="2164.3" r="6.8" fill="#34508a"/><circle cx="380.4" cy="2236.5" r="6.8" fill="#34508a"/><circle cx="340.8" cy="2164.1" r="6.8" fill="#3f7f8a"/><circle cx="351.5" cy="2212.5" r="6.8" fill="#c865cc"/><circle cx="360.2" cy="2176.2" r="6.8" fill="#7b1e6e"/><circle cx="361.6" cy="2214.3" r="6.8" fill="#7b1e6e"/><circle cx="355.8" cy="2160.0" r="6.8" fill="#a898d0"/><circle cx="432.3" cy="2189.4" r="6.8" fill="#7b1e6e"/><circle cx="388.6" cy="2199.0" r="6.8" fill="#7b1e6e"/><circle cx="383.3" cy="2263.0" r="6.8" fill="#7b1e6e"/><circle cx="353.9" cy="2148.6" r="6.8" fill="#7b1e6e"/><circle cx="347.8" cy="2166.6" r="6.8" fill="#f5b962"/><circle cx="346.0" cy="2224.6" r="6.8" fill="#7b1e6e"/><circle cx="356.0" cy="2154.1" r="6.8" fill="#3f7f8a"/><circle cx="372.4" cy="2245.9" r="6.8" fill="#3f7f8a"/><circle cx="396.2" cy="2164.5" r="6.8" fill="#7b1e6e"/><circle cx="410.1" cy="2164.4" r="6.8" fill="#3f7f8a"/><circle cx="341.3" cy="2167.8" r="6.8" fill="#3f7f8a"/><circle cx="419.4" cy="2227.1" r="6.8" fill="#7b1e6e"/><circle cx="358.5" cy="2137.5" r="6.8" fill="#7b1e6e"/><circle cx="371.4" cy="2199.0" r="6.8" fill="#7b1e6e"/><circle cx="379.5" cy="2163.0" r="6.8" fill="#c865cc"/><circle cx="380.2" cy="2198.7" r="6.8" fill="#7b1e6e"/><circle cx="432.4" cy="2195.5" r="6.8" fill="#7b1e6e"/><circle cx="361.3" cy="2197.9" r="6.8" fill="#7b1e6e"/><circle cx="362.0" cy="2198.1" r="6.8" fill="#7b1e6e"/><circle cx="353.8" cy="2220.0" r="6.8" fill="#7b1e6e"/><circle cx="388.8" cy="2194.0" r="6.8" fill="#7b1e6e"/><circle cx="362.4" cy="2168.7" r="6.8" fill="#7b1e6e"/><circle cx="367.2" cy="2207.7" r="6.8" fill="#c865cc"/><circle cx="381.9" cy="2155.0" r="6.8" fill="#7b1e6e"/><circle cx="345.7" cy="2179.7" r="6.8" fill="#7b1e6e"/><circle cx="374.1" cy="2131.5" r="6.8" fill="#7b1e6e"/><circle cx="386.1" cy="2194.8" r="6.8" fill="#c865cc"/><circle cx="370.5" cy="2187.7" r="6.8" fill="#f5b962"/><circle cx="374.7" cy="2181.8" r="6.8" fill="#a898d0"/><circle cx="384.5" cy="2160.3" r="6.8" fill="#72eccc"/><circle cx="385.9" cy="2195.3" r="6.8" fill="#7b1e6e"/><circle cx="370.1" cy="2218.2" r="6.8" fill="#7b1e6e"/><circle cx="394.4" cy="2208.0" r="6.8" fill="#c865cc"/><circle cx="389.7" cy="2212.6" r="6.8" fill="#c865cc"/><circle cx="375.0" cy="2221.0" r="6.8" fill="#a898d0"/><circle cx="393.6" cy="2206.8" r="6.8" fill="#a898d0"/><circle cx="396.5" cy="2238.6" r="6.8" fill="#c865cc"/><circle cx="409.3" cy="2207.7" r="6.8" fill="#7b1e6e"/><circle cx="407.4" cy="2195.1" r="6.8" fill="#7b1e6e"/><circle cx="313.6" cy="2212.4" r="6.8" fill="#a898d0"/><circle cx="347.0" cy="2179.0" r="6.8" fill="#a898d0"/><circle cx="416.4" cy="2187.8" r="6.8" fill="#7b1e6e"/><circle cx="429.2" cy="2252.6" r="6.8" fill="#a898d0"/><circle cx="379.2" cy="2192.0" r="6.8" fill="#7b1e6e"/><circle cx="363.2" cy="2214.0" r="6.8" fill="#34508a"/><circle cx="392.7" cy="2203.6" r="6.8" fill="#7b1e6e"/><circle cx="361.1" cy="2198.1" r="6.8" fill="#7b1e6e"/><circle cx="401.7" cy="2219.3" r="6.8" fill="#a898d0"/><circle cx="392.7" cy="2189.8" r="6.8" fill="#7b1e6e"/><circle cx="391.8" cy="2166.9" r="6.8" fill="#7b1e6e"/><circle cx="397.7" cy="2198.2" r="6.8" fill="#72eccc"/><circle cx="390.3" cy="2144.0" r="6.8" fill="#7b1e6e"/><circle cx="365.8" cy="2171.5" r="6.8" fill="#7b1e6e"/><circle cx="321.1" cy="2188.9" r="6.8" fill="#34508a"/><circle cx="392.3" cy="2180.2" r="6.8" fill="#a898d0"/><circle cx="381.6" cy="2225.0" r="6.8" fill="#7b1e6e"/><circle cx="378.6" cy="2217.9" r="6.8" fill="#7b1e6e"/><circle cx="400.4" cy="2256.1" r="6.8" fill="#7b1e6e"/><circle cx="390.4" cy="2210.0" r="6.8" fill="#7b1e6e"/><circle cx="403.2" cy="2182.2" r="6.8" fill="#c865cc"/><circle cx="406.5" cy="2264.6" r="6.8" fill="#c865cc"/><circle cx="377.7" cy="2198.4" r="6.8" fill="#a898d0"/><circle cx="418.3" cy="2199.0" r="6.8" fill="#c865cc"/><circle cx="421.7" cy="2168.1" r="6.8" fill="#7b1e6e"/><circle cx="376.6" cy="2226.0" r="6.8" fill="#7b1e6e"/><circle cx="410.2" cy="2150.2" r="6.8" fill="#f5b962"/><circle cx="391.1" cy="2178.3" r="6.8" fill="#34508a"/><circle cx="340.9" cy="2234.3" r="6.8" fill="#7b1e6e"/><circle cx="395.3" cy="2184.3" r="6.8" fill="#7b1e6e"/><circle cx="409.8" cy="2192.1" r="6.8" fill="#7b1e6e"/><circle cx="357.4" cy="2171.8" r="6.8" fill="#7b1e6e"/><circle cx="387.5" cy="2176.8" r="6.8" fill="#f5b962"/><circle cx="389.0" cy="2169.5" r="6.8" fill="#a898d0"/><circle cx="384.0" cy="2188.4" r="6.8" fill="#7b1e6e"/><circle cx="387.8" cy="2230.2" r="6.8" fill="#7b1e6e"/><circle cx="364.9" cy="2185.5" r="6.8" fill="#72eccc"/><circle cx="442.4" cy="2266.0" r="6.8" fill="#c865cc"/><circle cx="383.7" cy="2207.2" r="6.8" fill="#7b1e6e"/><circle cx="378.6" cy="2167.8" r="6.8" fill="#7b1e6e"/><circle cx="454.6" cy="2231.1" r="6.8" fill="#34508a"/><circle cx="415.8" cy="2176.3" r="6.8" fill="#34508a"/><circle cx="466.6" cy="2196.0" r="6.8" fill="#f5b962"/><circle cx="456.7" cy="2236.0" r="6.8" fill="#34508a"/><circle cx="444.6" cy="2232.5" r="6.8" fill="#3f7f8a"/><circle cx="444.0" cy="2188.3" r="6.8" fill="#3f7f8a"/><circle cx="476.9" cy="2217.2" r="6.8" fill="#f5b962"/><circle cx="444.2" cy="2211.6" r="6.8" fill="#3f7f8a"/><circle cx="467.4" cy="2171.7" r="6.8" fill="#f5b962"/><circle cx="443.7" cy="2291.4" r="6.8" fill="#3f7f8a"/><circle cx="473.0" cy="2214.8" r="6.8" fill="#f5b962"/><circle cx="497.3" cy="2211.2" r="6.8" fill="#3f7f8a"/><circle cx="443.9" cy="2253.1" r="6.8" fill="#f5b962"/><circle cx="466.8" cy="2203.3" r="6.8" fill="#3f7f8a"/><circle cx="494.3" cy="2267.6" r="6.8" fill="#72eccc"/><circle cx="467.1" cy="2159.2" r="6.8" fill="#a898d0"/><circle cx="466.0" cy="2212.4" r="6.8" fill="#f5b962"/><circle cx="467.0" cy="2208.1" r="6.8" fill="#7b1e6e"/><circle cx="414.8" cy="2228.7" r="6.8" fill="#a898d0"/><circle cx="444.7" cy="2200.5" r="6.8" fill="#7b1e6e"/><circle cx="444.5" cy="2151.0" r="6.8" fill="#3f7f8a"/><circle cx="457.6" cy="2250.2" r="6.8" fill="#34508a"/><circle cx="495.6" cy="2218.7" r="6.8" fill="#f5b962"/><circle cx="432.3" cy="2183.0" r="6.8" fill="#7b1e6e"/><circle cx="441.0" cy="2220.3" r="6.8" fill="#3f7f8a"/><circle cx="459.5" cy="2174.2" r="6.8" fill="#a898d0"/><circle cx="458.5" cy="2214.8" r="6.8" fill="#3f7f8a"/><circle cx="450.4" cy="2202.3" r="6.8" fill="#c865cc"/><circle cx="438.5" cy="2169.2" r="6.8" fill="#a898d0"/><circle cx="492.6" cy="2275.4" r="6.8" fill="#7b1e6e"/><circle cx="481.1" cy="2238.5" r="6.8" fill="#34508a"/><circle cx="483.7" cy="2216.4" r="6.8" fill="#7b1e6e"/><circle cx="450.5" cy="2209.6" r="6.8" fill="#34508a"/><circle cx="442.4" cy="2215.6" r="6.8" fill="#f5b962"/><circle cx="428.1" cy="2207.2" r="6.8" fill="#7b1e6e"/><circle cx="450.5" cy="2211.1" r="6.8" fill="#f5b962"/><circle cx="463.7" cy="2238.5" r="6.8" fill="#f5b962"/><circle cx="447.4" cy="2244.6" r="6.8" fill="#a898d0"/><circle cx="457.9" cy="2221.5" r="6.8" fill="#34508a"/><circle cx="437.1" cy="2220.4" r="6.8" fill="#a898d0"/><circle cx="440.6" cy="2261.2" r="6.8" fill="#f5b962"/><circle cx="437.3" cy="2202.7" r="6.8" fill="#7b1e6e"/><circle cx="466.6" cy="2235.6" r="6.8" fill="#34508a"/><circle cx="417.4" cy="2239.8" r="6.8" fill="#3f7f8a"/><circle cx="445.5" cy="2198.7" r="6.8" fill="#34508a"/><circle cx="431.8" cy="2157.8" r="6.8" fill="#f5b962"/><circle cx="443.9" cy="2174.6" r="6.8" fill="#34508a"/><circle cx="460.2" cy="2227.0" r="6.8" fill="#34508a"/><circle cx="486.9" cy="2212.2" r="6.8" fill="#34508a"/><circle cx="435.4" cy="2191.3" r="6.8" fill="#34508a"/><circle cx="425.2" cy="2230.6" r="6.8" fill="#72eccc"/><circle cx="408.5" cy="2238.2" r="6.8" fill="#34508a"/><circle cx="449.5" cy="2228.3" r="6.8" fill="#f5b962"/><circle cx="465.9" cy="2219.1" r="6.8" fill="#7b1e6e"/><circle cx="479.2" cy="2230.3" r="6.8" fill="#34508a"/><circle cx="461.0" cy="2175.8" r="6.8" fill="#f5b962"/><circle cx="448.4" cy="2210.5" r="6.8" fill="#3f7f8a"/><circle cx="422.1" cy="2265.4" r="6.8" fill="#f5b962"/><circle cx="454.3" cy="2182.9" r="6.8" fill="#34508a"/><circle cx="445.8" cy="2215.4" r="6.8" fill="#7b1e6e"/><circle cx="436.2" cy="2220.7" r="6.8" fill="#72eccc"/><circle cx="464.1" cy="2197.0" r="6.8" fill="#7b1e6e"/><circle cx="451.2" cy="2246.4" r="6.8" fill="#f5b962"/><circle cx="429.8" cy="2204.5" r="6.8" fill="#3f7f8a"/><circle cx="433.5" cy="2240.7" r="6.8" fill="#3f7f8a"/><circle cx="441.3" cy="2217.1" r="6.8" fill="#a898d0"/><circle cx="430.5" cy="2190.2" r="6.8" fill="#3f7f8a"/><circle cx="405.8" cy="2176.1" r="6.8" fill="#34508a"/><circle cx="442.9" cy="2222.3" r="6.8" fill="#f5b962"/><circle cx="413.0" cy="2204.6" r="6.8" fill="#3f7f8a"/><circle cx="469.6" cy="2234.1" r="6.8" fill="#a898d0"/><circle cx="432.5" cy="2236.3" r="6.8" fill="#7b1e6e"/><circle cx="439.3" cy="2184.1" r="6.8" fill="#f5b962"/><circle cx="483.9" cy="2224.4" r="6.8" fill="#34508a"/><circle cx="477.5" cy="2204.1" r="6.8" fill="#a898d0"/><circle cx="438.8" cy="2213.4" r="6.8" fill="#34508a"/><circle cx="506.7" cy="2240.2" r="6.8" fill="#72eccc"/><circle cx="450.1" cy="2227.5" r="6.8" fill="#a898d0"/><circle cx="478.6" cy="2203.8" r="6.8" fill="#f5b962"/><circle cx="445.8" cy="2218.4" r="6.8" fill="#34508a"/><circle cx="454.4" cy="2256.2" r="6.8" fill="#34508a"/><circle cx="469.9" cy="2186.1" r="6.8" fill="#c865cc"/><circle cx="471.1" cy="2278.8" r="6.8" fill="#72eccc"/><circle cx="457.6" cy="2222.5" r="6.8" fill="#f5b962"/><circle cx="491.3" cy="2191.1" r="6.8" fill="#a898d0"/><circle cx="462.1" cy="2239.6" r="6.8" fill="#34508a"/><circle cx="442.4" cy="2226.9" r="6.8" fill="#3f7f8a"/><circle cx="454.7" cy="2214.2" r="6.8" fill="#3f7f8a"/><circle cx="426.9" cy="2217.4" r="6.8" fill="#34508a"/><circle cx="430.7" cy="2211.0" r="6.8" fill="#f5b962"/><circle cx="466.6" cy="2187.0" r="6.8" fill="#f5b962"/><circle cx="428.7" cy="2250.9" r="6.8" fill="#7b1e6e"/><circle cx="468.3" cy="2221.5" r="6.8" fill="#34508a"/><circle cx="454.2" cy="2262.9" r="6.8" fill="#f5b962"/><circle cx="475.2" cy="2216.6" r="6.8" fill="#34508a"/><circle cx="483.0" cy="2223.4" r="6.8" fill="#a898d0"/><circle cx="458.1" cy="2239.3" r="6.8" fill="#34508a"/><circle cx="452.8" cy="2232.2" r="6.8" fill="#34508a"/><circle cx="405.1" cy="2244.1" r="6.8" fill="#7b1e6e"/><circle cx="433.0" cy="2088.5" r="6.8" fill="#7b1e6e"/><circle cx="420.9" cy="2113.3" r="6.8" fill="#3f7f8a"/><circle cx="426.2" cy="2146.7" r="6.8" fill="#a898d0"/><circle cx="453.8" cy="2125.5" r="6.8" fill="#7b1e6e"/><circle cx="408.0" cy="2122.4" r="6.8" fill="#c865cc"/><circle cx="404.0" cy="2085.9" r="6.8" fill="#a898d0"/><circle cx="448.6" cy="2097.6" r="6.8" fill="#c865cc"/><circle cx="438.1" cy="2120.0" r="6.8" fill="#7b1e6e"/><circle cx="417.1" cy="2112.9" r="6.8" fill="#7b1e6e"/><circle cx="419.3" cy="2101.4" r="6.8" fill="#7b1e6e"/><circle cx="431.3" cy="2120.1" r="6.8" fill="#7b1e6e"/><circle cx="421.5" cy="2104.2" r="6.8" fill="#3f7f8a"/><circle cx="434.3" cy="2096.3" r="6.8" fill="#7b1e6e"/><circle cx="441.8" cy="2117.0" r="6.8" fill="#7b1e6e"/><circle cx="413.5" cy="2140.9" r="6.8" fill="#3f7f8a"/><circle cx="467.1" cy="2103.7" r="6.8" fill="#a898d0"/><circle cx="390.9" cy="2106.7" r="6.8" fill="#7b1e6e"/><circle cx="445.8" cy="2088.5" r="6.8" fill="#7b1e6e"/><circle cx="428.6" cy="2120.2" r="6.8" fill="#7b1e6e"/><circle cx="428.4" cy="2089.5" r="6.8" fill="#c865cc"/><circle cx="384.8" cy="2125.5" r="6.8" fill="#3f7f8a"/><circle cx="449.2" cy="2147.5" r="6.8" fill="#a898d0"/><circle cx="490.5" cy="2103.6" r="6.8" fill="#34508a"/><circle cx="524.4" cy="2117.2" r="6.8" fill="#f5b962"/><circle cx="486.3" cy="2141.3" r="6.8" fill="#7b1e6e"/><circle cx="525.3" cy="2141.3" r="6.8" fill="#a898d0"/><circle cx="515.9" cy="2157.1" r="6.8" fill="#72eccc"/><circle cx="540.7" cy="2174.3" r="6.8" fill="#34508a"/><circle cx="496.0" cy="2185.2" r="6.8" fill="#34508a"/><circle cx="500.0" cy="2205.0" r="6.8" fill="#f5b962"/><circle cx="628.6" cy="2231.4" r="6.8" fill="#34508a"/><circle cx="648.6" cy="2233.2" r="6.8" fill="#34508a"/><circle cx="635.0" cy="2242.3" r="6.8" fill="#34508a"/><circle cx="743.7" cy="2234.1" r="6.8" fill="#7b1e6e"/><circle cx="563.4" cy="2236.9" r="6.8" fill="#f5b962"/><circle cx="554.3" cy="2245.0" r="6.8" fill="#7b1e6e"/><circle cx="568.8" cy="2246.8" r="6.8" fill="#7b1e6e"/><circle cx="581.5" cy="2247.7" r="6.8" fill="#72eccc"/><circle cx="652.2" cy="2255.0" r="6.8" fill="#3f7f8a"/><circle cx="562.5" cy="2267.7" r="6.8" fill="#7b1e6e"/><circle cx="600.5" cy="2267.7" r="6.8" fill="#7b1e6e"/><circle cx="600.5" cy="2267.7" r="6.8" fill="#7b1e6e"/><circle cx="664.0" cy="2282.2" r="6.8" fill="#72eccc"/><circle cx="578.8" cy="2303.0" r="6.8" fill="#7b1e6e"/><circle cx="515.3" cy="2236.0" r="6.8" fill="#c865cc"/><circle cx="532.6" cy="2244.1" r="6.8" fill="#7b1e6e"/><circle cx="534.4" cy="2254.0" r="6.8" fill="#f5b962"/><circle cx="427.3" cy="1875.1" r="6.8" fill="#7b1e6e"/><circle cx="455.5" cy="1902.6" r="6.8" fill="#7b1e6e"/><circle cx="405.3" cy="1912.8" r="6.8" fill="#7b1e6e"/><circle cx="428.8" cy="1900.3" r="6.8" fill="#a898d0"/><circle cx="341.6" cy="1924.6" r="6.8" fill="#7b1e6e"/><circle cx="488.5" cy="1930.9" r="6.8" fill="#f5b962"/><circle cx="424.9" cy="1926.2" r="6.8" fill="#7b1e6e"/><circle cx="427.3" cy="1941.1" r="6.8" fill="#7b1e6e"/><circle cx="439.8" cy="1941.1" r="6.8" fill="#3f7f8a"/><circle cx="461.8" cy="1949.8" r="6.8" fill="#7b1e6e"/><circle cx="449.3" cy="1956.0" r="6.8" fill="#7b1e6e"/><circle cx="468.1" cy="1969.4" r="6.8" fill="#7b1e6e"/><circle cx="366.8" cy="1979.6" r="6.8" fill="#7b1e6e"/><circle cx="398.2" cy="1992.2" r="6.8" fill="#7b1e6e"/><circle cx="421.0" cy="1991.4" r="6.8" fill="#7b1e6e"/><circle cx="514.5" cy="1988.3" r="6.8" fill="#7b1e6e"/><circle cx="547.4" cy="1996.9" r="6.8" fill="#7b1e6e"/><circle cx="388.0" cy="2012.6" r="6.8" fill="#7b1e6e"/><circle cx="446.9" cy="2022.0" r="6.8" fill="#c865cc"/><circle cx="476.0" cy="2033.0" r="6.8" fill="#3f7f8a"/><circle cx="461.8" cy="2040.1" r="6.8" fill="#c865cc"/><circle cx="443.8" cy="2044.8" r="6.8" fill="#3f7f8a"/><circle cx="433.5" cy="2044.0" r="6.8" fill="#34508a"/><circle cx="465.0" cy="2050.3" r="6.8" fill="#c865cc"/><circle cx="373.8" cy="2073.9" r="6.8" fill="#7b1e6e"/><circle cx="400.5" cy="2074.7" r="6.8" fill="#c865cc"/><circle cx="463.4" cy="2060.5" r="6.8" fill="#7b1e6e"/><circle cx="450.0" cy="2063.7" r="6.8" fill="#7b1e6e"/><circle cx="298.7" cy="2225.0" r="6.8" fill="#7b1e6e"/><circle cx="304.5" cy="2196.0" r="6.8" fill="#f5b962"/><circle cx="317.0" cy="2194.0" r="6.8" fill="#72eccc"/><circle cx="337.3" cy="2255.0" r="6.8" fill="#f5b962"/><circle cx="316.0" cy="2236.6" r="6.8" fill="#72eccc"/><circle cx="424.3" cy="2285.0" r="6.8" fill="#7b1e6e"/><circle cx="486.0" cy="2160.0" r="6.8" fill="#7b1e6e"/><circle cx="500.0" cy="2172.0" r="6.8" fill="#a898d0"/><path d="M434.8,1641.0 L437.9,1650.5 L447.9,1650.5 L439.8,1656.4 L442.9,1666.0 L434.8,1660.1 L426.7,1666.0 L429.8,1656.4 L421.7,1650.5 L431.7,1650.5Z" fill="#3f7f8a"/><path d="M491.7,1671.6 L494.8,1681.1 L504.8,1681.1 L496.7,1687.0 L499.8,1696.6 L491.7,1690.7 L483.6,1696.6 L486.7,1687.0 L478.6,1681.1 L488.6,1681.1Z" fill="#7b1e6e"/><path d="M369.1,1751.0 L372.2,1760.5 L382.2,1760.5 L374.1,1766.4 L377.2,1776.0 L369.1,1770.1 L361.0,1776.0 L364.1,1766.4 L356.0,1760.5 L366.0,1760.5Z" fill="#7b1e6e"/><path d="M395.0,1804.4 L398.1,1813.9 L408.1,1813.9 L400.0,1819.8 L403.1,1829.4 L395.0,1823.5 L386.9,1829.4 L390.0,1819.8 L381.9,1813.9 L391.9,1813.9Z" fill="#c865cc"/><path d="M384.0,1842.1 L387.1,1851.6 L397.1,1851.6 L389.0,1857.5 L392.1,1867.1 L384.0,1861.2 L375.9,1867.1 L379.0,1857.5 L370.9,1851.6 L380.9,1851.6Z" fill="#34508a"/><path d="M466.9,1865.3 L470.0,1874.8 L480.0,1874.8 L471.9,1880.7 L475.0,1890.3 L466.9,1884.4 L458.8,1890.3 L461.9,1880.7 L453.8,1874.8 L463.8,1874.8Z" fill="#7b1e6e"/><path d="M398.2,1875.5 L401.3,1885.0 L411.3,1885.0 L403.2,1890.9 L406.3,1900.5 L398.2,1894.6 L390.1,1900.5 L393.2,1890.9 L385.1,1885.0 L395.1,1885.0Z" fill="#a898d0"/><path d="M381.7,1880.2 L384.8,1889.7 L394.8,1889.7 L386.7,1895.6 L389.8,1905.2 L381.7,1899.3 L373.6,1905.2 L376.7,1895.6 L368.6,1889.7 L378.6,1889.7Z" fill="#f5b962"/><path d="M376.2,1896.7 L379.3,1906.2 L389.3,1906.2 L381.2,1912.1 L384.3,1921.7 L376.2,1915.8 L368.1,1921.7 L371.2,1912.1 L363.1,1906.2 L373.1,1906.2Z" fill="#7b1e6e"/><path d="M400.5,1893.5 L403.6,1903.0 L413.6,1903.0 L405.5,1908.9 L408.6,1918.5 L400.5,1912.6 L392.4,1918.5 L395.5,1908.9 L387.4,1903.0 L397.4,1903.0Z" fill="#7b1e6e"/><path d="M417.8,1892.0 L420.9,1901.5 L430.9,1901.5 L422.8,1907.4 L425.9,1917.0 L417.8,1911.1 L409.7,1917.0 L412.8,1907.4 L404.7,1901.5 L414.7,1901.5Z" fill="#f5b962"/><path d="M430.4,1917.9 L433.5,1927.4 L443.5,1927.4 L435.4,1933.3 L438.5,1942.9 L430.4,1937.0 L422.3,1942.9 L425.4,1933.3 L417.3,1927.4 L427.3,1927.4Z" fill="#7b1e6e"/><path d="M413.1,1987.0 L416.2,1996.5 L426.2,1996.5 L418.1,2002.4 L421.2,2012.0 L413.1,2006.1 L405.0,2012.0 L408.1,2002.4 L400.0,1996.5 L410.0,1996.5Z" fill="#f5b962"/><path d="M401.3,2014.5 L404.4,2024.0 L414.4,2024.0 L406.3,2029.9 L409.4,2039.5 L401.3,2033.6 L393.2,2039.5 L396.3,2029.9 L388.2,2024.0 L398.2,2024.0Z" fill="#a898d0"/><path d="M394.3,2022.4 L397.4,2031.9 L407.4,2031.9 L399.3,2037.8 L402.4,2047.4 L394.3,2041.5 L386.2,2047.4 L389.3,2037.8 L381.2,2031.9 L391.2,2031.9Z" fill="#7b1e6e"/><path d="M367.6,2038.1 L370.7,2047.6 L380.7,2047.6 L372.6,2053.5 L375.7,2063.1 L367.6,2057.2 L359.5,2063.1 L362.6,2053.5 L354.5,2047.6 L364.5,2047.6Z" fill="#3f7f8a"/><path d="M351.0,2093.2 L354.1,2102.7 L364.1,2102.7 L356.0,2108.6 L359.1,2118.2 L351.0,2112.3 L342.9,2118.2 L346.0,2108.6 L337.9,2102.7 L347.9,2102.7Z" fill="#7b1e6e"/><path d="M384.0,2096.2 L387.1,2105.7 L397.1,2105.7 L389.0,2111.6 L392.1,2121.2 L384.0,2115.3 L375.9,2121.2 L379.0,2111.6 L370.9,2105.7 L380.9,2105.7Z" fill="#3f7f8a"/><path d="M395.0,2106.2 L398.1,2115.7 L408.1,2115.7 L400.0,2121.6 L403.1,2131.2 L395.0,2125.3 L386.9,2131.2 L390.0,2121.6 L381.9,2115.7 L391.9,2115.7Z" fill="#7b1e6e"/><path d="M347.0,2124.2 L350.1,2133.7 L360.1,2133.7 L352.0,2139.6 L355.1,2149.2 L347.0,2143.3 L338.9,2149.2 L342.0,2139.6 L333.9,2133.7 L343.9,2133.7Z" fill="#72eccc"/><path d="M372.0,2126.2 L375.1,2135.7 L385.1,2135.7 L377.0,2141.6 L380.1,2151.2 L372.0,2145.3 L363.9,2151.2 L367.0,2141.6 L358.9,2135.7 L368.9,2135.7Z" fill="#7b1e6e"/><path d="M455.0,2098.2 L458.1,2107.7 L468.1,2107.7 L460.0,2113.6 L463.1,2123.2 L455.0,2117.3 L446.9,2123.2 L450.0,2113.6 L441.9,2107.7 L451.9,2107.7Z" fill="#a898d0"/><path d="M335.0,2186.2 L338.1,2195.7 L348.1,2195.7 L340.0,2201.6 L343.1,2211.2 L335.0,2205.3 L326.9,2211.2 L330.0,2201.6 L321.9,2195.7 L331.9,2195.7Z" fill="#a898d0"/><path d="M333.0,2191.2 L336.1,2200.7 L346.1,2200.7 L338.0,2206.6 L341.1,2216.2 L333.0,2210.3 L324.9,2216.2 L328.0,2206.6 L319.9,2200.7 L329.9,2200.7Z" fill="#7b1e6e"/></g>
<ellipse cx="398.3" cy="2033.6" rx="63.7" ry="376.1" transform="rotate(6.2 398.3 2033.6)" fill="none" stroke="#000" stroke-width="3.2"/>
<ellipse cx="419.6" cy="2185.6" rx="121.9" ry="131.7" transform="rotate(1.2 419.6 2185.6)" fill="none" stroke="#000" stroke-width="3.2" stroke-dasharray="11.5,5.5"/>
<line x1="418.6" y1="2172.4" x2="111.8" y2="2105.8" stroke="#000" stroke-width="1.7"/><path d="M99.1,2103.0L114.6,2102.1L112.9,2110.3Z" fill="#000"/>
<line x1="418.6" y1="2172.4" x2="729.1" y2="2225.0" stroke="#000" stroke-width="1.7"/><path d="M741.9,2227.2L726.4,2228.8L727.8,2220.6Z" fill="#000"/>
<line x1="418.6" y1="2172.4" x2="518.4" y2="2229.2" stroke="#000" stroke-width="1.7"/><path d="M529.7,2235.6L514.6,2231.8L518.7,2224.5Z" fill="#000"/>
<line x1="418.6" y1="2172.4" x2="418.3" y2="2229.4" stroke="#000" stroke-width="1.7"/><path d="M418.2,2242.4L414.1,2227.4L422.5,2227.4Z" fill="#000"/>
<line x1="418.6" y1="2172.4" x2="531.3" y2="2101.1" stroke="#000" stroke-width="1.7"/><path d="M542.3,2094.2L531.9,2105.8L527.4,2098.7Z" fill="#000"/>
<line x1="418.6" y1="2172.4" x2="474.3" y2="2000.7" stroke="#000" stroke-width="1.7"/><path d="M478.3,1988.3L477.7,2003.9L469.7,2001.3Z" fill="#000"/>
<line x1="418.6" y1="2172.4" x2="419.3" y2="2024.8" stroke="#000" stroke-width="1.7"/><path d="M419.4,2011.8L423.5,2026.8L415.1,2026.8Z" fill="#000"/>
<line x1="418.6" y1="2172.4" x2="443.4" y2="1892.8" stroke="#000" stroke-width="1.7"/><path d="M444.5,1879.9L447.4,1895.2L439.0,1894.5Z" fill="#000"/>
<line x1="418.6" y1="2172.4" x2="438.3" y2="1778.5" stroke="#000" stroke-width="1.7"/><path d="M439.0,1765.5L442.4,1780.7L434.1,1780.3Z" fill="#000"/>
<line x1="418.6" y1="2172.4" x2="446.6" y2="1737.4" stroke="#000" stroke-width="1.7"/><path d="M447.4,1724.4L450.6,1739.6L442.2,1739.1Z" fill="#000"/>
</g>
<rect x="68.6" y="2309.1" width="707.2" height="120.1" fill="#fff" fill-opacity="0.8" stroke="#d0d0d0" stroke-width="1.4"/>
<circle cx="90.8" cy="2330.8" r="9.1" fill="#34508a"/>
<text x="114.8" y="2337.6" font-size="29" textLength="59.4" lengthAdjust="spacing" xml:space="preserve">Rye</text>
<circle cx="90.8" cy="2359.5" r="9.1" fill="#c865cc"/>
<text x="114.5" y="2366.3" font-size="29" textLength="278.8" lengthAdjust="spacing" xml:space="preserve">Self-composed mix</text>
<circle cx="90.8" cy="2388.5" r="9.1" fill="#3f7f8a"/>
<text x="114.5" y="2395.3" font-size="29" textLength="344.0" lengthAdjust="spacing" xml:space="preserve">Semi-wholemeal wheat</text>
<circle cx="90.8" cy="2417.2" r="9.1" fill="#72eccc"/>
<text x="114.5" y="2424.0" font-size="29" textLength="75.6" lengthAdjust="spacing" xml:space="preserve">Spelt</text>
<circle cx="475.3" cy="2330.7" r="9.1" fill="#7b1e6e"/>
<text x="511.9" y="2337.5" font-size="29" textLength="93.0" lengthAdjust="spacing" xml:space="preserve">Wheat</text>
<circle cx="475.3" cy="2359.6" r="9.1" fill="#f5b962"/>
<text x="511.9" y="2366.4" font-size="29" textLength="222.6" lengthAdjust="spacing" xml:space="preserve">Wholemeal rye</text>
<circle cx="475.3" cy="2388.4" r="9.1" fill="#a898d0"/>
<text x="511.9" y="2395.2" font-size="29" textLength="263.8" lengthAdjust="spacing" xml:space="preserve">Wholemeal wheat</text>
<rect x="73.5" y="1627" width="276.9" height="105.1" rx="4" fill="#fff" fill-opacity="0.8" stroke="#d0d0d0" stroke-width="1.4"/>
<line x1="85.2" y1="1676.7" x2="165.0" y2="1676.7" stroke="#000" stroke-width="1.9" stroke-dasharray="7,3.6"/>
<circle cx="123.8" cy="1676.7" r="6" fill="#000"/>
<line x1="85.2" y1="1705.7" x2="165.0" y2="1705.7" stroke="#000" stroke-width="1.9"/>
<path d="M123.8,1693.9 L126.6,1702.6 L135.8,1702.6 L128.4,1708.0 L131.2,1716.7 L123.8,1711.3 L116.4,1716.7 L119.2,1708.0 L111.8,1702.6 L121.0,1702.6Z" fill="#000"/>
<text x="108.2" y="1655.1" font-size="29" textLength="220.0" lengthAdjust="spacing" xml:space="preserve">Sample source</text>
<text x="169.6" y="1689.1" font-size="29" textLength="156.2" lengthAdjust="spacing" xml:space="preserve">Household</text>
<text x="169.6" y="1717.9" font-size="29" textLength="101.4" lengthAdjust="spacing" xml:space="preserve">Bakery</text>
<text class="b" transform="translate(428.2,1718.4) scale(1,1.08)" font-size="30" font-weight="bold" textLength="326.6" lengthAdjust="spacing" xml:space="preserve">Backslopping freq.</text>
<text class="b" transform="translate(185.1,1757.1) scale(1,1.08)" font-size="30" font-weight="bold" textLength="241.2" lengthAdjust="spacing" xml:space="preserve">Storage temp.</text>
<text class="b" transform="translate(438.8,1868.3) scale(1,1.08)" font-size="30" font-weight="bold" textLength="411.4" lengthAdjust="spacing" xml:space="preserve">Dough size for feeding</text>
<text class="b" transform="translate(230.0,1978.4) scale(1,1.08)" font-size="30" font-weight="bold" textLength="186.8" lengthAdjust="spacing" xml:space="preserve">Dough age</text>
<text class="b" transform="translate(438.8,1986.4) scale(1,1.08)" font-size="30" font-weight="bold" textLength="508.0" lengthAdjust="spacing" xml:space="preserve">Fermented dairy aroma score</text>
<text class="b" transform="translate(428.2,2088.3) scale(1,1.08)" font-size="30" font-weight="bold" textLength="413.4" lengthAdjust="spacing" xml:space="preserve">Fermented aroma score</text>
<text class="b" transform="translate(36.2,2091.8) scale(1,1.08)" font-size="30" font-weight="bold" textLength="367.0" lengthAdjust="spacing" xml:space="preserve">Temp. during feeding</text>
<text class="b" transform="translate(507.2,2212.5) scale(1,1.08)" font-size="30" font-weight="bold" textLength="310.4" lengthAdjust="spacing" xml:space="preserve">Time fermentation</text>
<text class="b" transform="translate(533.5,2262.4) scale(1,1.08)" font-size="30" font-weight="bold" textLength="203.8" lengthAdjust="spacing" xml:space="preserve">Dough yield</text>
<text class="b" transform="translate(352.5,2277.9) scale(1,1.08)" font-size="30" font-weight="bold" textLength="64.2" lengthAdjust="spacing" xml:space="preserve">TTA</text>
<rect x="67.7" y="1618.5" width="709.0" height="823.7" fill="none" stroke="#262626" stroke-width="1.8"/>
<text x="120.3" y="2468.7" font-size="29" text-anchor="middle">-6</text>
<text x="219.3" y="2468.7" font-size="29" text-anchor="middle">-4</text>
<text x="318.2" y="2468.7" font-size="29" text-anchor="middle">-2</text>
<text x="418.6" y="2468.7" font-size="29" text-anchor="middle">0</text>
<text x="517.5" y="2468.7" font-size="29" text-anchor="middle">2</text>
<text x="616.4" y="2468.7" font-size="29" text-anchor="middle">4</text>
<text x="715.4" y="2468.7" font-size="29" text-anchor="middle">6</text>
<text x="61.2" y="2321.0" font-size="29" text-anchor="end">-2</text>
<text x="61.2" y="2179.6" font-size="29" text-anchor="end">0</text>
<text x="61.2" y="2038.2" font-size="29" text-anchor="end">2</text>
<text x="61.2" y="1896.8" font-size="29" text-anchor="end">4</text>
<text x="61.2" y="1755.4" font-size="29" text-anchor="end">6</text>
<path d="M121.8,2442.2V2447.2 M220.8,2442.2V2447.2 M319.7,2442.2V2447.2 M418.6,2442.2V2447.2 M517.5,2442.2V2447.2 M616.4,2442.2V2447.2 M715.4,2442.2V2447.2 M62.2,2314.5H67.7 M62.2,2173.1H67.7 M62.2,2031.7H67.7 M62.2,1890.3H67.7 M62.2,1748.9H67.7" stroke="#262626" stroke-width="1.5"/>
<text x="450.2" y="2492.5" font-size="29" textLength="197" lengthAdjust="spacing" text-anchor="middle">PC2 (10.05%)</text>
<text transform="translate(21.8,2001.2) rotate(-90)" font-size="29" textLength="194" lengthAdjust="spacing" text-anchor="middle">PC1 (12.08%)</text>
<g clip-path="url(#clipd)">
<g fill-opacity="0.4"><circle cx="1402.9" cy="2266.6" r="6.8" fill="#86a04e"/><circle cx="1374.5" cy="2181.1" r="6.8" fill="#86a04e"/><circle cx="1359.7" cy="2214.5" r="6.8" fill="#86a04e"/><circle cx="1521.0" cy="2167.7" r="6.8" fill="#d65f6c"/><circle cx="1575.0" cy="2267.2" r="6.8" fill="#b5d06c"/><circle cx="1412.3" cy="2192.0" r="6.8" fill="#5a7a38"/><circle cx="1453.0" cy="2261.8" r="6.8" fill="#b5d06c"/><circle cx="1394.7" cy="2233.1" r="6.8" fill="#b5d06c"/><circle cx="1357.5" cy="2119.9" r="6.8" fill="#d65f6c"/><circle cx="1383.2" cy="2111.5" r="6.8" fill="#86a04e"/><circle cx="1347.2" cy="2163.0" r="6.8" fill="#86a04e"/><circle cx="1273.1" cy="2157.3" r="6.8" fill="#5358a8"/><circle cx="1511.5" cy="2236.6" r="6.8" fill="#d65f6c"/><circle cx="1446.9" cy="2254.6" r="6.8" fill="#d65f6c"/><circle cx="1382.4" cy="2222.1" r="6.8" fill="#d65f6c"/><circle cx="1412.0" cy="2172.3" r="6.8" fill="#d65f6c"/><circle cx="1450.4" cy="2234.8" r="6.8" fill="#b5d06c"/><circle cx="1304.0" cy="2137.7" r="6.8" fill="#b5d06c"/><circle cx="1363.9" cy="2112.5" r="6.8" fill="#c6a03a"/><circle cx="1482.9" cy="2202.9" r="6.8" fill="#d65f6c"/><circle cx="1543.5" cy="2296.4" r="6.8" fill="#8b6c30"/><circle cx="1445.0" cy="2264.6" r="6.8" fill="#d65f6c"/><circle cx="1280.2" cy="2186.0" r="6.8" fill="#e6c68a"/><circle cx="1241.5" cy="2159.1" r="6.8" fill="#d65f6c"/><circle cx="1383.7" cy="2233.2" r="6.8" fill="#d65f6c"/><circle cx="1413.1" cy="2224.8" r="6.8" fill="#b5d06c"/><circle cx="1325.1" cy="2202.5" r="6.8" fill="#8b6c30"/><circle cx="1476.1" cy="2210.1" r="6.8" fill="#c6a03a"/><circle cx="1517.4" cy="2276.6" r="6.8" fill="#5a7a38"/><circle cx="1463.0" cy="2285.2" r="6.8" fill="#d65f6c"/><circle cx="1467.0" cy="2225.8" r="6.8" fill="#d65f6c"/><circle cx="1302.4" cy="2223.4" r="6.8" fill="#b5d06c"/><circle cx="1456.0" cy="2284.4" r="6.8" fill="#b5d06c"/><circle cx="1267.7" cy="2139.9" r="6.8" fill="#d65f6c"/><circle cx="1421.1" cy="2280.6" r="6.8" fill="#d65f6c"/><circle cx="1465.2" cy="2300.4" r="6.8" fill="#86a04e"/><circle cx="1472.5" cy="2198.6" r="6.8" fill="#b5d06c"/><circle cx="1421.4" cy="2203.4" r="6.8" fill="#d65f6c"/><circle cx="1342.2" cy="2199.5" r="6.8" fill="#5a7a38"/><circle cx="1414.2" cy="2199.8" r="6.8" fill="#c6a03a"/><circle cx="1301.4" cy="2144.6" r="6.8" fill="#86a04e"/><circle cx="1423.0" cy="2148.4" r="6.8" fill="#b0484e"/><circle cx="1542.8" cy="2283.0" r="6.8" fill="#86a04e"/><circle cx="1433.1" cy="2196.3" r="6.8" fill="#8b6c30"/><circle cx="1258.2" cy="2209.4" r="6.8" fill="#d65f6c"/><circle cx="1349.3" cy="2155.7" r="6.8" fill="#86a04e"/><circle cx="1490.9" cy="2201.9" r="6.8" fill="#d65f6c"/><circle cx="1382.8" cy="2206.4" r="6.8" fill="#86a04e"/><circle cx="1527.0" cy="2254.1" r="6.8" fill="#d65f6c"/><circle cx="1373.9" cy="2209.1" r="6.8" fill="#d65f6c"/><circle cx="1353.4" cy="2212.5" r="6.8" fill="#86a04e"/><circle cx="1453.3" cy="2284.3" r="6.8" fill="#5358a8"/><circle cx="1521.4" cy="2245.9" r="6.8" fill="#343a78"/><circle cx="1362.6" cy="2157.0" r="6.8" fill="#b5d06c"/><circle cx="1317.5" cy="2148.0" r="6.8" fill="#5358a8"/><circle cx="1407.1" cy="2218.4" r="6.8" fill="#d65f6c"/><circle cx="1425.8" cy="2263.0" r="6.8" fill="#86a04e"/><circle cx="1367.8" cy="2159.4" r="6.8" fill="#d65f6c"/><circle cx="1450.9" cy="2244.5" r="6.8" fill="#5a7a38"/><circle cx="1470.1" cy="2240.3" r="6.8" fill="#86a04e"/><circle cx="1459.7" cy="2159.6" r="6.8" fill="#d65f6c"/><circle cx="1542.6" cy="2225.4" r="6.8" fill="#d65f6c"/><circle cx="1439.4" cy="2198.4" r="6.8" fill="#86a04e"/><circle cx="1495.6" cy="2254.9" r="6.8" fill="#5358a8"/><circle cx="1449.6" cy="2227.5" r="6.8" fill="#d65f6c"/><circle cx="1411.3" cy="2186.4" r="6.8" fill="#d65f6c"/><circle cx="1457.8" cy="2227.2" r="6.8" fill="#d65f6c"/><circle cx="1276.4" cy="2196.8" r="6.8" fill="#5a7a38"/><circle cx="1356.3" cy="2154.5" r="6.8" fill="#843438"/><circle cx="1360.4" cy="2202.2" r="6.8" fill="#86a04e"/><circle cx="1379.8" cy="2148.5" r="6.8" fill="#86a04e"/><circle cx="1547.9" cy="2263.1" r="6.8" fill="#5358a8"/><circle cx="1305.4" cy="2168.4" r="6.8" fill="#8b6c30"/><circle cx="1458.7" cy="2251.3" r="6.8" fill="#d65f6c"/><circle cx="1434.4" cy="2262.4" r="6.8" fill="#8b6c30"/><circle cx="1461.9" cy="2239.8" r="6.8" fill="#d65f6c"/><circle cx="1425.5" cy="2221.3" r="6.8" fill="#b5d06c"/><circle cx="1454.9" cy="2219.7" r="6.8" fill="#843438"/><circle cx="1315.8" cy="2207.6" r="6.8" fill="#d65f6c"/><circle cx="1386.9" cy="2150.2" r="6.8" fill="#d65f6c"/><circle cx="1571.5" cy="2313.4" r="6.8" fill="#86a04e"/><circle cx="1358.9" cy="2220.0" r="6.8" fill="#c6a03a"/><circle cx="1406.5" cy="2210.8" r="6.8" fill="#86a04e"/><circle cx="1373.8" cy="2127.9" r="6.8" fill="#b5d06c"/><circle cx="1285.5" cy="2117.9" r="6.8" fill="#e6c68a"/><circle cx="1583.7" cy="2273.7" r="6.8" fill="#d65f6c"/><circle cx="1531.0" cy="2242.7" r="6.8" fill="#d65f6c"/><circle cx="1428.0" cy="2235.1" r="6.8" fill="#d65f6c"/><circle cx="1373.4" cy="2207.7" r="6.8" fill="#5a7a38"/><circle cx="1357.6" cy="2121.6" r="6.8" fill="#d65f6c"/><circle cx="1401.5" cy="2195.4" r="6.8" fill="#d65f6c"/><circle cx="1490.8" cy="2316.8" r="6.8" fill="#b5d06c"/><circle cx="1368.6" cy="2223.7" r="6.8" fill="#8b6c30"/><circle cx="1474.1" cy="2279.9" r="6.8" fill="#d65f6c"/><circle cx="1370.7" cy="2226.4" r="6.8" fill="#5358a8"/><circle cx="1508.1" cy="2217.9" r="6.8" fill="#d65f6c"/><circle cx="1460.6" cy="2284.4" r="6.8" fill="#d65f6c"/><circle cx="1341.5" cy="2251.3" r="6.8" fill="#d65f6c"/><circle cx="1289.9" cy="2184.7" r="6.8" fill="#5358a8"/><circle cx="1284.6" cy="2214.9" r="6.8" fill="#b5d06c"/><circle cx="1471.7" cy="2179.3" r="6.8" fill="#d65f6c"/><circle cx="1406.3" cy="2121.2" r="6.8" fill="#d65f6c"/><circle cx="1348.5" cy="2196.4" r="6.8" fill="#d65f6c"/><circle cx="1435.5" cy="2220.0" r="6.8" fill="#86a04e"/><circle cx="1469.2" cy="2221.4" r="6.8" fill="#5358a8"/><circle cx="1430.1" cy="2229.1" r="6.8" fill="#86a04e"/><circle cx="1488.9" cy="2190.9" r="6.8" fill="#843438"/><circle cx="1564.8" cy="2282.7" r="6.8" fill="#5358a8"/><circle cx="1387.2" cy="2214.8" r="6.8" fill="#86a04e"/><circle cx="1457.3" cy="2196.4" r="6.8" fill="#d65f6c"/><circle cx="1470.8" cy="2160.5" r="6.8" fill="#d65f6c"/><circle cx="1393.5" cy="2130.7" r="6.8" fill="#5358a8"/><circle cx="1403.6" cy="2189.0" r="6.8" fill="#86a04e"/><circle cx="1301.8" cy="2184.5" r="6.8" fill="#d65f6c"/><circle cx="1386.6" cy="2207.9" r="6.8" fill="#5358a8"/><circle cx="1391.6" cy="2274.7" r="6.8" fill="#d65f6c"/><circle cx="1348.3" cy="2192.3" r="6.8" fill="#d65f6c"/><circle cx="1358.6" cy="2147.8" r="6.8" fill="#b5d06c"/><circle cx="1417.2" cy="2208.9" r="6.8" fill="#d65f6c"/><circle cx="1444.1" cy="2187.2" r="6.8" fill="#d65f6c"/><circle cx="1401.0" cy="2323.4" r="6.8" fill="#8b6c30"/><circle cx="1324.9" cy="2203.5" r="6.8" fill="#d65f6c"/><circle cx="1504.5" cy="2252.8" r="6.8" fill="#5358a8"/><circle cx="1433.9" cy="2275.6" r="6.8" fill="#d65f6c"/><circle cx="1477.7" cy="2218.3" r="6.8" fill="#d65f6c"/><circle cx="1440.0" cy="2216.2" r="6.8" fill="#b5d06c"/><circle cx="1350.9" cy="2160.0" r="6.8" fill="#d65f6c"/><circle cx="1478.8" cy="2224.9" r="6.8" fill="#b5d06c"/><circle cx="1457.3" cy="2243.1" r="6.8" fill="#343a78"/><circle cx="1577.3" cy="2220.1" r="6.8" fill="#b5d06c"/><circle cx="1475.5" cy="2234.5" r="6.8" fill="#86a04e"/><circle cx="1516.2" cy="2243.3" r="6.8" fill="#86a04e"/><circle cx="1266.2" cy="2173.1" r="6.8" fill="#d65f6c"/><circle cx="1371.1" cy="2209.0" r="6.8" fill="#d65f6c"/><circle cx="1403.7" cy="2220.0" r="6.8" fill="#5a7a38"/><circle cx="1407.2" cy="2241.3" r="6.8" fill="#b5d06c"/><circle cx="1375.2" cy="2168.4" r="6.8" fill="#5358a8"/><circle cx="1592.5" cy="2273.6" r="6.8" fill="#d65f6c"/><circle cx="1467.1" cy="2204.7" r="6.8" fill="#5a7a38"/><circle cx="1344.8" cy="2188.5" r="6.8" fill="#8b6c30"/><circle cx="1499.3" cy="2185.4" r="6.8" fill="#c6a03a"/><circle cx="1363.1" cy="2185.9" r="6.8" fill="#d65f6c"/><circle cx="1360.6" cy="2208.6" r="6.8" fill="#c6a03a"/><circle cx="1432.2" cy="2287.1" r="6.8" fill="#8b6c30"/><circle cx="1448.2" cy="2242.3" r="6.8" fill="#5358a8"/><circle cx="1338.3" cy="2205.1" r="6.8" fill="#5358a8"/><circle cx="1411.8" cy="2172.3" r="6.8" fill="#86a04e"/><circle cx="1386.4" cy="2233.0" r="6.8" fill="#c6a03a"/><circle cx="1423.8" cy="2189.6" r="6.8" fill="#d65f6c"/><circle cx="1497.8" cy="2299.0" r="6.8" fill="#8b6c30"/><circle cx="1481.2" cy="2230.6" r="6.8" fill="#8b6c30"/><circle cx="1378.4" cy="2238.6" r="6.8" fill="#d65f6c"/><circle cx="1453.3" cy="2158.1" r="6.8" fill="#d65f6c"/><circle cx="1278.7" cy="2165.2" r="6.8" fill="#b5d06c"/><circle cx="1321.0" cy="2117.1" r="6.8" fill="#b0484e"/><circle cx="1437.3" cy="2143.9" r="6.8" fill="#d65f6c"/><circle cx="1460.8" cy="2325.0" r="6.8" fill="#d65f6c"/><circle cx="1608.7" cy="2253.5" r="6.8" fill="#86a04e"/><circle cx="1374.3" cy="2186.4" r="6.8" fill="#5358a8"/><circle cx="1539.9" cy="2280.2" r="6.8" fill="#86a04e"/><circle cx="1350.5" cy="2172.9" r="6.8" fill="#d65f6c"/><circle cx="1371.8" cy="2235.6" r="6.8" fill="#d65f6c"/><circle cx="1258.4" cy="2130.4" r="6.8" fill="#343a78"/><circle cx="1502.4" cy="2304.4" r="6.8" fill="#d65f6c"/><circle cx="1386.3" cy="2165.8" r="6.8" fill="#d65f6c"/><circle cx="1389.1" cy="2186.2" r="6.8" fill="#d65f6c"/><circle cx="1500.5" cy="2318.9" r="6.8" fill="#d65f6c"/><circle cx="1392.6" cy="2227.2" r="6.8" fill="#d65f6c"/><circle cx="1436.8" cy="2209.7" r="6.8" fill="#b5d06c"/><circle cx="1465.3" cy="2302.7" r="6.8" fill="#d65f6c"/><circle cx="1338.3" cy="2211.4" r="6.8" fill="#86a04e"/><circle cx="1254.2" cy="2190.4" r="6.8" fill="#86a04e"/><circle cx="1549.4" cy="2271.9" r="6.8" fill="#b5d06c"/><circle cx="1520.4" cy="2181.2" r="6.8" fill="#d65f6c"/><circle cx="1413.3" cy="2256.9" r="6.8" fill="#d65f6c"/><circle cx="1523.6" cy="2233.0" r="6.8" fill="#843438"/><circle cx="1468.9" cy="2178.1" r="6.8" fill="#5a7a38"/><circle cx="1534.1" cy="2222.6" r="6.8" fill="#d65f6c"/><circle cx="1366.6" cy="2177.0" r="6.8" fill="#d65f6c"/><circle cx="1533.6" cy="2265.3" r="6.8" fill="#d65f6c"/><circle cx="1279.9" cy="2210.4" r="6.8" fill="#e6c68a"/><circle cx="1496.7" cy="2226.8" r="6.8" fill="#b5d06c"/><circle cx="1334.3" cy="2133.5" r="6.8" fill="#86a04e"/><circle cx="1333.7" cy="2194.8" r="6.8" fill="#8b6c30"/><circle cx="1335.8" cy="2212.9" r="6.8" fill="#86a04e"/><circle cx="1494.3" cy="2248.3" r="6.8" fill="#8b6c30"/><circle cx="1393.5" cy="2196.8" r="6.8" fill="#343a78"/><circle cx="1466.9" cy="2228.5" r="6.8" fill="#b5d06c"/><circle cx="1275.7" cy="2220.8" r="6.8" fill="#d65f6c"/><circle cx="1345.9" cy="2176.1" r="6.8" fill="#d65f6c"/><circle cx="1459.7" cy="2284.5" r="6.8" fill="#d65f6c"/><circle cx="1512.4" cy="2285.0" r="6.8" fill="#86a04e"/><circle cx="1350.3" cy="2164.4" r="6.8" fill="#d65f6c"/><circle cx="1311.5" cy="2220.8" r="6.8" fill="#d65f6c"/><circle cx="1410.3" cy="2230.2" r="6.8" fill="#d65f6c"/><circle cx="1340.4" cy="2140.6" r="6.8" fill="#d65f6c"/><circle cx="1463.6" cy="2244.1" r="6.8" fill="#e6c68a"/><circle cx="1460.4" cy="2276.0" r="6.8" fill="#d65f6c"/><circle cx="1362.8" cy="2196.7" r="6.8" fill="#8b6c30"/><circle cx="1295.8" cy="2140.4" r="6.8" fill="#d65f6c"/><circle cx="1511.9" cy="2295.7" r="6.8" fill="#5358a8"/><circle cx="1427.4" cy="2205.3" r="6.8" fill="#e6c68a"/><circle cx="1378.4" cy="2211.2" r="6.8" fill="#b0484e"/><circle cx="1555.4" cy="2247.5" r="6.8" fill="#86a04e"/><circle cx="1410.1" cy="2235.1" r="6.8" fill="#d65f6c"/><circle cx="1464.9" cy="2236.3" r="6.8" fill="#d65f6c"/><circle cx="1276.1" cy="2118.1" r="6.8" fill="#86a04e"/><circle cx="1450.0" cy="2181.7" r="6.8" fill="#5358a8"/><circle cx="1315.4" cy="2130.5" r="6.8" fill="#86a04e"/><circle cx="1417.9" cy="2165.2" r="6.8" fill="#e6c68a"/><circle cx="1588.5" cy="2270.0" r="6.8" fill="#5358a8"/><circle cx="1540.6" cy="2271.3" r="6.8" fill="#b5d06c"/><circle cx="1409.6" cy="2163.9" r="6.8" fill="#d65f6c"/><circle cx="1512.6" cy="2195.7" r="6.8" fill="#343a78"/><circle cx="1507.1" cy="2154.5" r="6.8" fill="#d65f6c"/><circle cx="1473.5" cy="2302.4" r="6.8" fill="#d65f6c"/><circle cx="1543.6" cy="2178.6" r="6.8" fill="#d65f6c"/><circle cx="1469.7" cy="2156.3" r="6.8" fill="#8b6c30"/><circle cx="1424.4" cy="2316.6" r="6.8" fill="#d65f6c"/><circle cx="1499.7" cy="2247.6" r="6.8" fill="#d65f6c"/><circle cx="1379.0" cy="2224.0" r="6.8" fill="#b5d06c"/><circle cx="1290.4" cy="2187.6" r="6.8" fill="#8b6c30"/><circle cx="1475.3" cy="2169.1" r="6.8" fill="#5a7a38"/><circle cx="1589.5" cy="2279.6" r="6.8" fill="#c6a03a"/><circle cx="1564.0" cy="2277.5" r="6.8" fill="#5a7a38"/><circle cx="1428.8" cy="2283.7" r="6.8" fill="#d65f6c"/><circle cx="1528.6" cy="2190.7" r="6.8" fill="#d65f6c"/><circle cx="1248.9" cy="2197.0" r="6.8" fill="#d65f6c"/><circle cx="1450.7" cy="2175.5" r="6.8" fill="#86a04e"/><circle cx="1421.2" cy="2155.0" r="6.8" fill="#b5d06c"/><circle cx="1322.0" cy="2168.9" r="6.8" fill="#d65f6c"/><circle cx="1383.4" cy="2252.2" r="6.8" fill="#86a04e"/><circle cx="1419.9" cy="2202.5" r="6.8" fill="#5358a8"/><circle cx="1464.8" cy="2250.4" r="6.8" fill="#d65f6c"/><circle cx="1449.1" cy="2206.3" r="6.8" fill="#86a04e"/><circle cx="1467.4" cy="2225.6" r="6.8" fill="#b5d06c"/><circle cx="1411.8" cy="2225.2" r="6.8" fill="#5a7a38"/><circle cx="1594.7" cy="2185.6" r="6.8" fill="#86a04e"/><circle cx="1541.8" cy="2248.8" r="6.8" fill="#b5d06c"/><circle cx="1457.7" cy="2168.0" r="6.8" fill="#b5d06c"/><circle cx="1252.1" cy="2198.6" r="6.8" fill="#d65f6c"/><circle cx="1573.8" cy="2236.6" r="6.8" fill="#b5d06c"/><circle cx="1519.3" cy="2200.8" r="6.8" fill="#d65f6c"/><circle cx="1522.5" cy="2197.6" r="6.8" fill="#5358a8"/><circle cx="1435.7" cy="2198.6" r="6.8" fill="#b5d06c"/><circle cx="1328.6" cy="2187.6" r="6.8" fill="#d65f6c"/><circle cx="1398.9" cy="2186.1" r="6.8" fill="#8b6c30"/><circle cx="1505.4" cy="2188.4" r="6.8" fill="#b5d06c"/><circle cx="1406.6" cy="2155.6" r="6.8" fill="#b5d06c"/><circle cx="1530.8" cy="2329.4" r="6.8" fill="#5a7a38"/><circle cx="1332.4" cy="2179.1" r="6.8" fill="#b5d06c"/><circle cx="1357.0" cy="2173.8" r="6.8" fill="#b5d06c"/><circle cx="1456.2" cy="2232.4" r="6.8" fill="#86a04e"/><circle cx="1454.8" cy="2222.7" r="6.8" fill="#343a78"/><circle cx="1511.8" cy="2230.6" r="6.8" fill="#5358a8"/><circle cx="1394.0" cy="2310.6" r="6.8" fill="#e6c68a"/><circle cx="1370.9" cy="2285.4" r="6.8" fill="#343a78"/><circle cx="1437.4" cy="2169.3" r="6.8" fill="#d65f6c"/><circle cx="1339.3" cy="2158.6" r="6.8" fill="#5a7a38"/><circle cx="1453.9" cy="2219.3" r="6.8" fill="#d65f6c"/><circle cx="1374.9" cy="2168.0" r="6.8" fill="#d65f6c"/><circle cx="1545.2" cy="2227.6" r="6.8" fill="#b0484e"/><circle cx="1546.2" cy="2319.6" r="6.8" fill="#8b6c30"/><circle cx="1274.0" cy="2176.4" r="6.8" fill="#b5d06c"/><circle cx="1471.4" cy="2275.3" r="6.8" fill="#b5d06c"/><circle cx="1517.2" cy="2311.8" r="6.8" fill="#86a04e"/><circle cx="1295.1" cy="2228.4" r="6.8" fill="#d65f6c"/><circle cx="1369.3" cy="2178.2" r="6.8" fill="#b5d06c"/><circle cx="1430.3" cy="2209.7" r="6.8" fill="#d65f6c"/><circle cx="1410.5" cy="2185.3" r="6.8" fill="#d65f6c"/><circle cx="1518.6" cy="2207.6" r="6.8" fill="#d65f6c"/><circle cx="1392.8" cy="2174.5" r="6.8" fill="#86a04e"/><circle cx="1487.1" cy="2255.0" r="6.8" fill="#86a04e"/><circle cx="1368.1" cy="2149.6" r="6.8" fill="#86a04e"/><circle cx="1512.9" cy="2253.3" r="6.8" fill="#86a04e"/><circle cx="1447.8" cy="2207.9" r="6.8" fill="#d65f6c"/><circle cx="1469.0" cy="2147.9" r="6.8" fill="#86a04e"/><circle cx="1589.9" cy="2241.8" r="6.8" fill="#d65f6c"/><circle cx="1547.9" cy="2271.1" r="6.8" fill="#5a7a38"/><circle cx="1432.9" cy="2190.7" r="6.8" fill="#b5d06c"/><circle cx="1420.1" cy="2265.8" r="6.8" fill="#b5d06c"/><circle cx="1311.3" cy="2231.6" r="6.8" fill="#86a04e"/><circle cx="1340.4" cy="2204.2" r="6.8" fill="#d65f6c"/><circle cx="1409.6" cy="2239.1" r="6.8" fill="#86a04e"/><circle cx="1347.0" cy="2100.0" r="6.8" fill="#d65f6c"/><circle cx="1318.2" cy="2124.5" r="6.8" fill="#5358a8"/><circle cx="1460.2" cy="2197.6" r="6.8" fill="#b5d06c"/><circle cx="1278.3" cy="2213.4" r="6.8" fill="#d65f6c"/><circle cx="1551.6" cy="2210.7" r="6.8" fill="#d65f6c"/><circle cx="1305.0" cy="2218.7" r="6.8" fill="#86a04e"/><circle cx="1401.7" cy="2168.6" r="6.8" fill="#b5d06c"/><circle cx="1559.0" cy="2202.8" r="6.8" fill="#d65f6c"/><circle cx="1403.2" cy="2143.3" r="6.8" fill="#5a7a38"/><circle cx="1583.9" cy="2317.7" r="6.8" fill="#d65f6c"/><circle cx="1397.0" cy="2232.8" r="6.8" fill="#86a04e"/><circle cx="1467.2" cy="2170.0" r="6.8" fill="#86a04e"/><circle cx="1300.7" cy="2134.5" r="6.8" fill="#b5d06c"/><circle cx="1465.7" cy="2261.1" r="6.8" fill="#5a7a38"/><circle cx="1460.0" cy="2184.9" r="6.8" fill="#5a7a38"/><circle cx="1390.4" cy="2253.7" r="6.8" fill="#86a04e"/><circle cx="1264.6" cy="2181.5" r="6.8" fill="#b5d06c"/><circle cx="1282.9" cy="2139.6" r="6.8" fill="#86a04e"/><circle cx="1272.1" cy="2161.0" r="6.8" fill="#d65f6c"/><circle cx="1238.7" cy="2159.2" r="6.8" fill="#b5d06c"/><circle cx="1297.1" cy="2174.4" r="6.8" fill="#d65f6c"/><circle cx="1284.1" cy="2232.5" r="6.8" fill="#d65f6c"/><circle cx="1277.3" cy="2186.3" r="6.8" fill="#86a04e"/><circle cx="1271.5" cy="2162.9" r="6.8" fill="#b5d06c"/><circle cx="1299.2" cy="2205.6" r="6.8" fill="#b0484e"/><circle cx="1280.2" cy="2157.7" r="6.8" fill="#b5d06c"/><circle cx="1236.2" cy="2188.5" r="6.8" fill="#8b6c30"/><circle cx="1244.3" cy="2187.3" r="6.8" fill="#5358a8"/><circle cx="1229.0" cy="2163.1" r="6.8" fill="#b5d06c"/><circle cx="1311.1" cy="2182.9" r="6.8" fill="#d65f6c"/><circle cx="1276.8" cy="2157.7" r="6.8" fill="#d65f6c"/><circle cx="1302.1" cy="2135.6" r="6.8" fill="#d65f6c"/><circle cx="1284.8" cy="2152.5" r="6.8" fill="#d65f6c"/><circle cx="1262.9" cy="2219.4" r="6.8" fill="#5358a8"/><circle cx="1251.9" cy="2162.9" r="6.8" fill="#d65f6c"/><circle cx="1287.3" cy="2168.9" r="6.8" fill="#d65f6c"/><circle cx="1282.2" cy="2184.8" r="6.8" fill="#5358a8"/><circle cx="1270.6" cy="2118.3" r="6.8" fill="#b5d06c"/><circle cx="1276.8" cy="2119.9" r="6.8" fill="#d65f6c"/><circle cx="1268.6" cy="2197.3" r="6.8" fill="#86a04e"/><circle cx="1286.5" cy="2164.3" r="6.8" fill="#b5d06c"/><circle cx="1258.5" cy="2147.1" r="6.8" fill="#d65f6c"/><circle cx="1330.3" cy="2115.5" r="6.8" fill="#d65f6c"/><circle cx="1339.7" cy="2202.3" r="6.8" fill="#8b6c30"/><circle cx="1280.7" cy="2228.2" r="6.8" fill="#d65f6c"/><circle cx="1272.6" cy="2141.2" r="6.8" fill="#b5d06c"/><circle cx="1232.1" cy="2169.6" r="6.8" fill="#b5d06c"/><circle cx="1267.3" cy="2165.3" r="6.8" fill="#b0484e"/><circle cx="1240.7" cy="2194.9" r="6.8" fill="#d65f6c"/><circle cx="1242.0" cy="2182.1" r="6.8" fill="#b5d06c"/><circle cx="1280.8" cy="2130.8" r="6.8" fill="#b5d06c"/><circle cx="1271.6" cy="2135.9" r="6.8" fill="#d65f6c"/><circle cx="1239.2" cy="2157.5" r="6.8" fill="#b5d06c"/><circle cx="1287.9" cy="2111.4" r="6.8" fill="#b5d06c"/><circle cx="1246.0" cy="2149.1" r="6.8" fill="#b5d06c"/><circle cx="1252.7" cy="2131.2" r="6.8" fill="#b5d06c"/><circle cx="1297.5" cy="2177.7" r="6.8" fill="#d65f6c"/><circle cx="1244.2" cy="2157.8" r="6.8" fill="#d65f6c"/><circle cx="1230.5" cy="2181.9" r="6.8" fill="#5358a8"/><circle cx="1272.9" cy="2140.9" r="6.8" fill="#b0484e"/><circle cx="1291.8" cy="2181.1" r="6.8" fill="#d65f6c"/><circle cx="1304.0" cy="2177.0" r="6.8" fill="#d65f6c"/><circle cx="1259.5" cy="2185.5" r="6.8" fill="#b5d06c"/><circle cx="1248.9" cy="2156.6" r="6.8" fill="#b5d06c"/><circle cx="1310.8" cy="2194.4" r="6.8" fill="#d65f6c"/><circle cx="1295.6" cy="2149.8" r="6.8" fill="#8b6c30"/><circle cx="1285.2" cy="2150.6" r="6.8" fill="#d65f6c"/><circle cx="1308.4" cy="2170.2" r="6.8" fill="#d65f6c"/><circle cx="1305.8" cy="2147.7" r="6.8" fill="#d65f6c"/><circle cx="1287.0" cy="2109.6" r="6.8" fill="#d65f6c"/><circle cx="1277.0" cy="2188.6" r="6.8" fill="#d65f6c"/><circle cx="1266.9" cy="2170.7" r="6.8" fill="#5358a8"/><circle cx="1275.8" cy="2142.9" r="6.8" fill="#86a04e"/><circle cx="1284.3" cy="2160.7" r="6.8" fill="#b0484e"/><circle cx="1290.9" cy="2168.0" r="6.8" fill="#8b6c30"/><circle cx="1252.7" cy="2145.2" r="6.8" fill="#b5d06c"/><circle cx="1280.1" cy="2150.0" r="6.8" fill="#b5d06c"/><circle cx="1272.2" cy="2152.9" r="6.8" fill="#d65f6c"/><circle cx="1333.6" cy="2147.2" r="6.8" fill="#b5d06c"/><circle cx="1242.2" cy="2144.3" r="6.8" fill="#d65f6c"/><circle cx="1284.8" cy="2172.1" r="6.8" fill="#b5d06c"/><circle cx="1281.1" cy="2156.7" r="6.8" fill="#d65f6c"/><circle cx="1293.3" cy="2153.3" r="6.8" fill="#5358a8"/><circle cx="1294.3" cy="2159.3" r="6.8" fill="#b5d06c"/><circle cx="1266.3" cy="2226.8" r="6.8" fill="#86a04e"/><circle cx="1524.0" cy="2229.6" r="6.8" fill="#86a04e"/><circle cx="1610.0" cy="2263.5" r="6.8" fill="#5a7a38"/><circle cx="1596.7" cy="2251.2" r="6.8" fill="#b0484e"/><circle cx="1613.7" cy="2253.6" r="6.8" fill="#d65f6c"/><circle cx="1519.1" cy="2259.2" r="6.8" fill="#8b6c30"/><circle cx="1580.4" cy="2278.2" r="6.8" fill="#c6a03a"/><circle cx="1566.8" cy="2265.5" r="6.8" fill="#86a04e"/><circle cx="1563.2" cy="2264.4" r="6.8" fill="#8b6c30"/><circle cx="1580.8" cy="2268.3" r="6.8" fill="#d65f6c"/><circle cx="1567.9" cy="2247.0" r="6.8" fill="#d65f6c"/><circle cx="1555.8" cy="2210.0" r="6.8" fill="#d65f6c"/><circle cx="1576.9" cy="2258.1" r="6.8" fill="#86a04e"/><circle cx="1554.3" cy="2262.5" r="6.8" fill="#b0484e"/><circle cx="1567.4" cy="2264.7" r="6.8" fill="#d65f6c"/><circle cx="1497.2" cy="2312.9" r="6.8" fill="#5a7a38"/><circle cx="1504.7" cy="2256.1" r="6.8" fill="#86a04e"/><circle cx="1573.3" cy="2279.7" r="6.8" fill="#d65f6c"/><circle cx="1586.9" cy="2297.8" r="6.8" fill="#86a04e"/><circle cx="1568.0" cy="2255.6" r="6.8" fill="#86a04e"/><circle cx="1570.1" cy="2302.9" r="6.8" fill="#e6c68a"/><circle cx="1535.1" cy="2246.5" r="6.8" fill="#d65f6c"/><circle cx="1579.0" cy="2315.9" r="6.8" fill="#d65f6c"/><circle cx="1596.0" cy="2271.0" r="6.8" fill="#e6c68a"/><circle cx="1567.5" cy="2260.4" r="6.8" fill="#c6a03a"/><circle cx="1512.2" cy="2265.2" r="6.8" fill="#d65f6c"/><circle cx="1551.9" cy="2253.8" r="6.8" fill="#d65f6c"/><circle cx="1538.7" cy="2238.4" r="6.8" fill="#b0484e"/><circle cx="1550.1" cy="2271.3" r="6.8" fill="#8b6c30"/><circle cx="1553.4" cy="2290.0" r="6.8" fill="#86a04e"/><circle cx="1570.5" cy="2239.4" r="6.8" fill="#d65f6c"/><circle cx="1537.0" cy="2269.7" r="6.8" fill="#5a7a38"/><circle cx="1519.1" cy="2260.4" r="6.8" fill="#843438"/><circle cx="1561.0" cy="2241.2" r="6.8" fill="#843438"/><circle cx="1538.4" cy="2268.2" r="6.8" fill="#d65f6c"/><circle cx="1589.3" cy="2261.2" r="6.8" fill="#843438"/><circle cx="1513.9" cy="2302.0" r="6.8" fill="#86a04e"/><circle cx="1574.2" cy="2272.9" r="6.8" fill="#5a7a38"/><circle cx="1523.7" cy="2256.7" r="6.8" fill="#86a04e"/><circle cx="1596.1" cy="2266.6" r="6.8" fill="#86a04e"/><circle cx="1450.8" cy="2258.7" r="6.8" fill="#8b6c30"/><circle cx="1605.3" cy="2283.5" r="6.8" fill="#e6c68a"/><circle cx="1593.0" cy="2229.1" r="6.8" fill="#e6c68a"/><circle cx="1589.6" cy="2280.6" r="6.8" fill="#d65f6c"/><circle cx="1580.5" cy="2275.9" r="6.8" fill="#86a04e"/><circle cx="1543.7" cy="2261.8" r="6.8" fill="#86a04e"/><circle cx="1568.1" cy="2254.0" r="6.8" fill="#d65f6c"/><circle cx="1579.1" cy="2215.1" r="6.8" fill="#d65f6c"/><circle cx="1501.0" cy="2252.4" r="6.8" fill="#843438"/><circle cx="1578.1" cy="2265.6" r="6.8" fill="#b0484e"/><circle cx="1562.4" cy="2305.8" r="6.8" fill="#86a04e"/><circle cx="1521.3" cy="2288.1" r="6.8" fill="#d65f6c"/><circle cx="1543.6" cy="2269.3" r="6.8" fill="#d65f6c"/><circle cx="1530.2" cy="2270.3" r="6.8" fill="#c6a03a"/><circle cx="1518.2" cy="2263.0" r="6.8" fill="#5a7a38"/><circle cx="1546.8" cy="2214.6" r="6.8" fill="#d65f6c"/><circle cx="1532.1" cy="2299.8" r="6.8" fill="#5a7a38"/><circle cx="1529.4" cy="2309.2" r="6.8" fill="#e6c68a"/><circle cx="1538.3" cy="2251.1" r="6.8" fill="#d65f6c"/><circle cx="1588.2" cy="2288.5" r="6.8" fill="#5a7a38"/><circle cx="1516.2" cy="2195.5" r="6.8" fill="#86a04e"/><circle cx="1546.4" cy="2284.8" r="6.8" fill="#d65f6c"/><circle cx="1564.0" cy="2255.9" r="6.8" fill="#86a04e"/><circle cx="1537.6" cy="2257.6" r="6.8" fill="#e6c68a"/><circle cx="1498.2" cy="2284.0" r="6.8" fill="#d65f6c"/><circle cx="1509.0" cy="2260.9" r="6.8" fill="#86a04e"/><circle cx="1547.1" cy="2237.8" r="6.8" fill="#d65f6c"/><circle cx="1519.5" cy="2258.9" r="6.8" fill="#e6c68a"/><circle cx="1536.8" cy="2250.6" r="6.8" fill="#86a04e"/><circle cx="1473.8" cy="2258.2" r="6.8" fill="#5a7a38"/><circle cx="1570.6" cy="2225.7" r="6.8" fill="#c6a03a"/><circle cx="1517.4" cy="2263.9" r="6.8" fill="#5a7a38"/><circle cx="1572.3" cy="2277.4" r="6.8" fill="#8b6c30"/><circle cx="1535.1" cy="2287.7" r="6.8" fill="#e6c68a"/><circle cx="1544.0" cy="2273.9" r="6.8" fill="#b0484e"/><circle cx="1549.1" cy="2231.4" r="6.8" fill="#c6a03a"/><circle cx="1581.2" cy="2235.7" r="6.8" fill="#c6a03a"/><circle cx="1521.1" cy="2286.7" r="6.8" fill="#86a04e"/><circle cx="1554.0" cy="2206.3" r="6.8" fill="#e6c68a"/><circle cx="1539.8" cy="2266.8" r="6.8" fill="#5a7a38"/><circle cx="1590.9" cy="2265.7" r="6.8" fill="#d65f6c"/><circle cx="1521.3" cy="2284.4" r="6.8" fill="#b0484e"/><circle cx="1513.1" cy="2255.2" r="6.8" fill="#b0484e"/><circle cx="1355.9" cy="2261.6" r="6.8" fill="#b5d06c"/><circle cx="1308.6" cy="2277.4" r="6.8" fill="#b5d06c"/><circle cx="1378.0" cy="2277.9" r="6.8" fill="#5358a8"/><circle cx="1287.9" cy="2280.1" r="6.8" fill="#d65f6c"/><circle cx="1403.4" cy="2320.9" r="6.8" fill="#d65f6c"/><circle cx="1343.0" cy="2305.0" r="6.8" fill="#d65f6c"/><circle cx="1404.9" cy="2271.8" r="6.8" fill="#d65f6c"/><circle cx="1312.5" cy="2279.1" r="6.8" fill="#86a04e"/><circle cx="1309.7" cy="2257.2" r="6.8" fill="#b0484e"/><circle cx="1324.7" cy="2198.2" r="6.8" fill="#86a04e"/><circle cx="1309.7" cy="2271.6" r="6.8" fill="#b5d06c"/><circle cx="1327.9" cy="2274.4" r="6.8" fill="#d65f6c"/><circle cx="1373.3" cy="2287.0" r="6.8" fill="#b5d06c"/><circle cx="1345.3" cy="2251.5" r="6.8" fill="#86a04e"/><circle cx="1307.4" cy="2216.6" r="6.8" fill="#343a78"/><circle cx="1307.6" cy="2326.1" r="6.8" fill="#d65f6c"/><circle cx="1340.2" cy="2254.8" r="6.8" fill="#5358a8"/><circle cx="1423.1" cy="2233.2" r="6.8" fill="#8b6c30"/><circle cx="1337.5" cy="2238.4" r="6.8" fill="#b5d06c"/><circle cx="1342.8" cy="2294.5" r="6.8" fill="#5358a8"/><circle cx="1284.8" cy="2260.9" r="6.8" fill="#d65f6c"/><circle cx="1322.9" cy="2256.2" r="6.8" fill="#d65f6c"/><circle cx="1307.0" cy="2182.9" r="6.8" fill="#d65f6c"/><circle cx="1393.7" cy="2247.5" r="6.8" fill="#86a04e"/><circle cx="1266.7" cy="2269.5" r="6.8" fill="#b5d06c"/><circle cx="1386.3" cy="2288.8" r="6.8" fill="#d65f6c"/><circle cx="1332.9" cy="2273.5" r="6.8" fill="#b0484e"/><circle cx="1391.1" cy="2267.1" r="6.8" fill="#5358a8"/><circle cx="1389.9" cy="2293.4" r="6.8" fill="#5358a8"/><circle cx="1338.0" cy="2235.2" r="6.8" fill="#d65f6c"/><circle cx="1257.5" cy="2257.5" r="6.8" fill="#b0484e"/><circle cx="1298.7" cy="2282.8" r="6.8" fill="#86a04e"/><circle cx="1348.4" cy="2275.1" r="6.8" fill="#343a78"/><circle cx="1270.2" cy="2284.8" r="6.8" fill="#d65f6c"/><circle cx="1369.9" cy="2258.2" r="6.8" fill="#d65f6c"/><circle cx="1332.7" cy="2257.4" r="6.8" fill="#8b6c30"/><circle cx="1322.9" cy="2201.2" r="6.8" fill="#b5d06c"/><circle cx="1281.5" cy="2251.5" r="6.8" fill="#d65f6c"/><circle cx="1331.4" cy="2269.3" r="6.8" fill="#d65f6c"/><circle cx="1395.0" cy="2281.2" r="6.8" fill="#d65f6c"/><circle cx="1376.7" cy="2299.6" r="6.8" fill="#5358a8"/><circle cx="1399.6" cy="2296.5" r="6.8" fill="#d65f6c"/><circle cx="1340.8" cy="2270.3" r="6.8" fill="#d65f6c"/><circle cx="1268.8" cy="2241.8" r="6.8" fill="#b5d06c"/><circle cx="1411.2" cy="2242.3" r="6.8" fill="#d65f6c"/><circle cx="1410.8" cy="2262.3" r="6.8" fill="#d65f6c"/><circle cx="1438.0" cy="2232.8" r="6.8" fill="#d65f6c"/><circle cx="1370.9" cy="2313.2" r="6.8" fill="#d65f6c"/><circle cx="1293.3" cy="2293.2" r="6.8" fill="#5358a8"/><circle cx="1347.7" cy="2225.2" r="6.8" fill="#d65f6c"/><circle cx="1328.6" cy="2290.9" r="6.8" fill="#d65f6c"/><circle cx="1332.9" cy="2281.6" r="6.8" fill="#d65f6c"/><circle cx="1398.3" cy="2305.1" r="6.8" fill="#d65f6c"/><circle cx="1396.7" cy="2213.7" r="6.8" fill="#d65f6c"/><circle cx="1358.8" cy="2258.3" r="6.8" fill="#b5d06c"/><circle cx="1299.4" cy="2214.3" r="6.8" fill="#d65f6c"/><circle cx="1344.1" cy="2226.7" r="6.8" fill="#d65f6c"/><circle cx="1310.7" cy="2243.5" r="6.8" fill="#86a04e"/><circle cx="1332.6" cy="2257.6" r="6.8" fill="#b5d06c"/><circle cx="1400.7" cy="2252.4" r="6.8" fill="#5358a8"/><circle cx="1300.6" cy="2271.9" r="6.8" fill="#8b6c30"/><circle cx="1350.0" cy="2267.3" r="6.8" fill="#86a04e"/><circle cx="1301.7" cy="2253.0" r="6.8" fill="#d65f6c"/><circle cx="1325.3" cy="2293.0" r="6.8" fill="#d65f6c"/><circle cx="1294.5" cy="2280.8" r="6.8" fill="#5358a8"/><circle cx="1324.9" cy="2275.8" r="6.8" fill="#b5d06c"/><circle cx="1283.2" cy="2292.5" r="6.8" fill="#b5d06c"/><circle cx="1364.0" cy="2225.2" r="6.8" fill="#d65f6c"/><circle cx="1322.6" cy="2226.5" r="6.8" fill="#b5d06c"/><circle cx="1241.1" cy="2234.5" r="6.8" fill="#d65f6c"/><circle cx="1261.7" cy="2246.6" r="6.8" fill="#d65f6c"/><circle cx="1272.6" cy="2258.7" r="6.8" fill="#5358a8"/><circle cx="1229.1" cy="2275.6" r="6.8" fill="#d65f6c"/><circle cx="1240.0" cy="2272.0" r="6.8" fill="#d65f6c"/><circle cx="1253.2" cy="2274.4" r="6.8" fill="#b5d06c"/><circle cx="1249.6" cy="2284.0" r="6.8" fill="#5358a8"/><circle cx="1272.6" cy="2303.4" r="6.8" fill="#8b6c30"/><circle cx="1288.3" cy="2323.9" r="6.8" fill="#d65f6c"/><circle cx="1294.3" cy="2345.7" r="6.8" fill="#d65f6c"/><circle cx="1298.0" cy="2368.6" r="6.8" fill="#d65f6c"/><circle cx="1312.9" cy="2378.3" r="6.8" fill="#5358a8"/><circle cx="1288.3" cy="2244.2" r="6.8" fill="#b5d06c"/><circle cx="1295.5" cy="2251.4" r="6.8" fill="#86a04e"/><circle cx="1291.9" cy="2265.9" r="6.8" fill="#b0484e"/><circle cx="1310.0" cy="2281.6" r="6.8" fill="#d65f6c"/><circle cx="1305.2" cy="2302.2" r="6.8" fill="#d65f6c"/><circle cx="1319.7" cy="2316.7" r="6.8" fill="#d65f6c"/><circle cx="1317.3" cy="2256.3" r="6.8" fill="#5358a8"/><circle cx="1319.7" cy="2268.3" r="6.8" fill="#d65f6c"/><circle cx="1329.4" cy="2268.3" r="6.8" fill="#d65f6c"/><circle cx="1341.5" cy="2294.9" r="6.8" fill="#5358a8"/><circle cx="1341.5" cy="2311.8" r="6.8" fill="#c6a03a"/><circle cx="1354.7" cy="2315.5" r="6.8" fill="#d65f6c"/><circle cx="1368.0" cy="2311.8" r="6.8" fill="#d65f6c"/><circle cx="1351.1" cy="2297.3" r="6.8" fill="#5358a8"/><circle cx="1377.7" cy="2330.0" r="6.8" fill="#d65f6c"/><circle cx="1394.6" cy="2310.6" r="6.8" fill="#343a78"/><circle cx="1405.5" cy="2299.8" r="6.8" fill="#d65f6c"/><circle cx="1409.1" cy="2326.3" r="6.8" fill="#843438"/><circle cx="1334.2" cy="2244.2" r="6.8" fill="#d65f6c"/><circle cx="1353.5" cy="2256.3" r="6.8" fill="#d65f6c"/><circle cx="1356.0" cy="2278.0" r="6.8" fill="#b0484e"/><circle cx="1362.0" cy="2284.0" r="6.8" fill="#d65f6c"/><circle cx="1366.0" cy="2290.0" r="6.8" fill="#b0484e"/><circle cx="1404.3" cy="2258.7" r="6.8" fill="#d65f6c"/><circle cx="1401.9" cy="2266.0" r="6.8" fill="#b5d06c"/><circle cx="1431.8" cy="1903.5" r="6.8" fill="#d65f6c"/><circle cx="1523.3" cy="1904.4" r="6.8" fill="#d65f6c"/><circle cx="1584.1" cy="1981.4" r="6.8" fill="#b5d06c"/><circle cx="1574.1" cy="2017.7" r="6.8" fill="#5a7a38"/><circle cx="1645.7" cy="2003.2" r="6.8" fill="#d65f6c"/><circle cx="1606.7" cy="2025.0" r="6.8" fill="#5358a8"/><circle cx="1626.7" cy="2036.7" r="6.8" fill="#8b6c30"/><circle cx="1544.2" cy="2049.4" r="6.8" fill="#5a7a38"/><circle cx="1610.3" cy="2053.0" r="6.8" fill="#c6a03a"/><circle cx="1626.7" cy="2053.0" r="6.8" fill="#b5d06c"/><circle cx="1642.1" cy="2051.2" r="6.8" fill="#e6c68a"/><circle cx="1665.6" cy="2043.1" r="6.8" fill="#d65f6c"/><circle cx="1446.3" cy="2064.8" r="6.8" fill="#b0484e"/><circle cx="1474.4" cy="2083.9" r="6.8" fill="#5358a8"/><circle cx="1441.8" cy="2097.4" r="6.8" fill="#5358a8"/><circle cx="1596.8" cy="2089.3" r="6.8" fill="#d65f6c"/><circle cx="1633.0" cy="2085.7" r="6.8" fill="#d65f6c"/><circle cx="1625.8" cy="2093.8" r="6.8" fill="#d65f6c"/><circle cx="1598.6" cy="2108.3" r="6.8" fill="#d65f6c"/><circle cx="1614.9" cy="2106.5" r="6.8" fill="#843438"/><circle cx="1614.9" cy="2111.0" r="6.8" fill="#8b6c30"/><circle cx="1479.8" cy="2110.1" r="6.8" fill="#b0484e"/><circle cx="1458.1" cy="2115.6" r="6.8" fill="#843438"/><circle cx="1513.4" cy="2141.0" r="6.8" fill="#5a7a38"/><circle cx="1506.1" cy="2144.6" r="6.8" fill="#5a7a38"/><circle cx="1571.4" cy="2136.4" r="6.8" fill="#d65f6c"/><circle cx="1587.7" cy="2141.9" r="6.8" fill="#5a7a38"/><circle cx="1551.4" cy="2148.2" r="6.8" fill="#5358a8"/><circle cx="1569.6" cy="2153.6" r="6.8" fill="#5358a8"/><circle cx="1635.7" cy="2153.6" r="6.8" fill="#d65f6c"/><circle cx="1477.1" cy="2153.6" r="6.8" fill="#b5d06c"/><circle cx="1518.8" cy="2155.5" r="6.8" fill="#d65f6c"/><circle cx="1379.2" cy="1893.7" r="6.8" fill="#86a04e"/><circle cx="1265.6" cy="2006.1" r="6.8" fill="#5358a8"/><circle cx="1165.3" cy="2023.7" r="6.8" fill="#b5d06c"/><circle cx="1173.8" cy="2162.7" r="6.8" fill="#5358a8"/><circle cx="1224.9" cy="2158.7" r="6.8" fill="#b5d06c"/><circle cx="1223.0" cy="2171.4" r="6.8" fill="#b5d06c"/><circle cx="1221.0" cy="2210.4" r="6.8" fill="#b5d06c"/><circle cx="1229.4" cy="2274.7" r="6.8" fill="#d65f6c"/><circle cx="1241.2" cy="2272.0" r="6.8" fill="#d65f6c"/><circle cx="1249.4" cy="2284.7" r="6.8" fill="#5358a8"/><circle cx="1245.7" cy="2083.5" r="6.8" fill="#b5d06c"/><circle cx="1272.0" cy="2052.7" r="6.8" fill="#b5d06c"/><circle cx="1258.4" cy="2063.6" r="6.8" fill="#b5d06c"/><circle cx="1266.6" cy="2072.6" r="6.8" fill="#b5d06c"/><circle cx="1539.9" cy="2405.5" r="6.8" fill="#d65f6c"/><circle cx="1473.2" cy="2374.7" r="6.8" fill="#8b6c30"/><circle cx="1297.0" cy="2248.0" r="6.8" fill="#5358a8"/><circle cx="1300.0" cy="2395.0" r="6.8" fill="#5358a8"/><circle cx="1290.0" cy="2375.0" r="6.8" fill="#d65f6c"/><circle cx="1330.0" cy="2320.0" r="6.8" fill="#5358a8"/><circle cx="1380.0" cy="2330.0" r="6.8" fill="#d65f6c"/><path d="M1436.3,1858.0 L1439.4,1867.5 L1449.4,1867.5 L1441.3,1873.4 L1444.4,1883.0 L1436.3,1877.1 L1428.2,1883.0 L1431.3,1873.4 L1423.2,1867.5 L1433.2,1867.5Z" fill="#d65f6c"/><path d="M1690.1,1858.0 L1693.2,1867.5 L1703.2,1867.5 L1695.1,1873.4 L1698.2,1883.0 L1690.1,1877.1 L1682.0,1883.0 L1685.1,1873.4 L1677.0,1867.5 L1687.0,1867.5Z" fill="#d65f6c"/><path d="M1645.7,1888.8 L1648.8,1898.3 L1658.8,1898.3 L1650.7,1904.2 L1653.8,1913.8 L1645.7,1907.9 L1637.6,1913.8 L1640.7,1904.2 L1632.6,1898.3 L1642.6,1898.3Z" fill="#5a7a38"/><path d="M1493.4,1890.6 L1496.5,1900.1 L1506.5,1900.1 L1498.4,1906.0 L1501.5,1915.6 L1493.4,1909.7 L1485.3,1915.6 L1488.4,1906.0 L1480.3,1900.1 L1490.3,1900.1Z" fill="#d65f6c"/><path d="M1510.7,1900.6 L1513.8,1910.1 L1523.8,1910.1 L1515.7,1916.0 L1518.8,1925.6 L1510.7,1919.7 L1502.6,1925.6 L1505.7,1916.0 L1497.6,1910.1 L1507.6,1910.1Z" fill="#d65f6c"/><path d="M1440.0,1903.3 L1443.1,1912.8 L1453.1,1912.8 L1445.0,1918.7 L1448.1,1928.3 L1440.0,1922.4 L1431.9,1928.3 L1435.0,1918.7 L1426.9,1912.8 L1436.9,1912.8Z" fill="#d65f6c"/><path d="M1499.8,1956.8 L1502.9,1966.3 L1512.9,1966.3 L1504.8,1972.2 L1507.9,1981.8 L1499.8,1975.9 L1491.7,1981.8 L1494.8,1972.2 L1486.7,1966.3 L1496.7,1966.3Z" fill="#b5d06c"/><path d="M1464.4,1989.4 L1467.5,1998.9 L1477.5,1998.9 L1469.4,2004.8 L1472.5,2014.4 L1464.4,2008.5 L1456.3,2014.4 L1459.4,2004.8 L1451.3,1998.9 L1461.3,1998.9Z" fill="#b5d06c"/><path d="M1436.3,1997.5 L1439.4,2007.0 L1449.4,2007.0 L1441.3,2012.9 L1444.4,2022.5 L1436.3,2016.6 L1428.2,2022.5 L1431.3,2012.9 L1423.2,2007.0 L1433.2,2007.0Z" fill="#d65f6c"/><path d="M1643.0,1991.2 L1646.1,2000.7 L1656.1,2000.7 L1648.0,2006.6 L1651.1,2016.2 L1643.0,2010.3 L1634.9,2016.2 L1638.0,2006.6 L1629.9,2000.7 L1639.9,2000.7Z" fill="#8b6c30"/><path d="M1608.5,2002.1 L1611.6,2011.6 L1621.6,2011.6 L1613.5,2017.5 L1616.6,2027.1 L1608.5,2021.2 L1600.4,2027.1 L1603.5,2017.5 L1595.4,2011.6 L1605.4,2011.6Z" fill="#e6c68a"/><path d="M1569.6,2056.5 L1572.7,2066.0 L1582.7,2066.0 L1574.6,2071.9 L1577.7,2081.5 L1569.6,2075.6 L1561.5,2081.5 L1564.6,2071.9 L1556.5,2066.0 L1566.5,2066.0Z" fill="#8b6c30"/><path d="M1554.2,2075.5 L1557.3,2085.0 L1567.3,2085.0 L1559.2,2090.9 L1562.3,2100.5 L1554.2,2094.6 L1546.1,2100.5 L1549.2,2090.9 L1541.1,2085.0 L1551.1,2085.0Z" fill="#5a7a38"/><path d="M1515.2,2114.5 L1518.3,2124.0 L1528.3,2124.0 L1520.2,2129.9 L1523.3,2139.5 L1515.2,2133.6 L1507.1,2139.5 L1510.2,2129.9 L1502.1,2124.0 L1512.1,2124.0Z" fill="#d65f6c"/><path d="M1607.6,2121.7 L1610.7,2131.2 L1620.7,2131.2 L1612.6,2137.1 L1615.7,2146.7 L1607.6,2140.8 L1599.5,2146.7 L1602.6,2137.1 L1594.5,2131.2 L1604.5,2131.2Z" fill="#843438"/><path d="M1435.4,2136.2 L1438.5,2145.7 L1448.5,2145.7 L1440.4,2151.6 L1443.5,2161.2 L1435.4,2155.3 L1427.3,2161.2 L1430.4,2151.6 L1422.3,2145.7 L1432.3,2145.7Z" fill="#d65f6c"/><path d="M1401.0,1942.8 L1404.1,1952.3 L1414.1,1952.3 L1406.0,1958.2 L1409.1,1967.8 L1401.0,1961.9 L1392.9,1967.8 L1396.0,1958.2 L1387.9,1952.3 L1397.9,1952.3Z" fill="#d65f6c"/><path d="M1613.8,1844.0 L1616.9,1853.5 L1626.9,1853.5 L1618.8,1859.4 L1621.9,1869.0 L1613.8,1863.1 L1605.7,1869.0 L1608.8,1859.4 L1600.7,1853.5 L1610.7,1853.5Z" fill="#b5d06c"/><path d="M1669.4,1815.0 L1672.5,1824.5 L1682.5,1824.5 L1674.4,1830.4 L1677.5,1840.0 L1669.4,1834.1 L1661.3,1840.0 L1664.4,1830.4 L1656.3,1824.5 L1666.3,1824.5Z" fill="#d65f6c"/><path d="M1692.0,1642.2 L1695.1,1651.7 L1705.1,1651.7 L1697.0,1657.6 L1700.1,1667.2 L1692.0,1661.3 L1683.9,1667.2 L1687.0,1657.6 L1678.9,1651.7 L1688.9,1651.7Z" fill="#d65f6c"/><path d="M1380.0,2166.2 L1383.1,2175.7 L1393.1,2175.7 L1385.0,2181.6 L1388.1,2191.2 L1380.0,2185.3 L1371.9,2191.2 L1375.0,2181.6 L1366.9,2175.7 L1376.9,2175.7Z" fill="#d65f6c"/><path d="M1401.0,2181.2 L1404.1,2190.7 L1414.1,2190.7 L1406.0,2196.6 L1409.1,2206.2 L1401.0,2200.3 L1392.9,2206.2 L1396.0,2196.6 L1387.9,2190.7 L1397.9,2190.7Z" fill="#843438"/><path d="M1455.0,2181.2 L1458.1,2190.7 L1468.1,2190.7 L1460.0,2196.6 L1463.1,2206.2 L1455.0,2200.3 L1446.9,2206.2 L1450.0,2196.6 L1441.9,2190.7 L1451.9,2190.7Z" fill="#5a7a38"/><path d="M1480.0,2191.2 L1483.1,2200.7 L1493.1,2200.7 L1485.0,2206.6 L1488.1,2216.2 L1480.0,2210.3 L1471.9,2216.2 L1475.0,2206.6 L1466.9,2200.7 L1476.9,2200.7Z" fill="#5358a8"/><path d="M1530.0,2196.2 L1533.1,2205.7 L1543.1,2205.7 L1535.0,2211.6 L1538.1,2221.2 L1530.0,2215.3 L1521.9,2221.2 L1525.0,2211.6 L1516.9,2205.7 L1526.9,2205.7Z" fill="#b5d06c"/><path d="M1555.0,2216.2 L1558.1,2225.7 L1568.1,2225.7 L1560.0,2231.6 L1563.1,2241.2 L1555.0,2235.3 L1546.9,2241.2 L1550.0,2231.6 L1541.9,2225.7 L1551.9,2225.7Z" fill="#5358a8"/><path d="M1331.0,2096.2 L1334.1,2105.7 L1344.1,2105.7 L1336.0,2111.6 L1339.1,2121.2 L1331.0,2115.3 L1322.9,2121.2 L1326.0,2111.6 L1317.9,2105.7 L1327.9,2105.7Z" fill="#d65f6c"/><path d="M1352.0,2131.2 L1355.1,2140.7 L1365.1,2140.7 L1357.0,2146.6 L1360.1,2156.2 L1352.0,2150.3 L1343.9,2156.2 L1347.0,2146.6 L1338.9,2140.7 L1348.9,2140.7Z" fill="#b5d06c"/></g>
<ellipse cx="1474.5" cy="2064.7" rx="352.7" ry="193.1" transform="rotate(-68.5 1474.5 2064.7)" fill="none" stroke="#000" stroke-width="3.2"/>
<ellipse cx="1418.2" cy="2222" rx="209.4" ry="146.9" transform="rotate(9.9 1418.2 2222)" fill="none" stroke="#000" stroke-width="3.2" stroke-dasharray="11.5,5.5"/>
<line x1="1425.5" y1="2207.7" x2="1072.5" y2="2025.6" stroke="#000" stroke-width="1.7"/><path d="M1060.9,2019.6L1076.2,2022.7L1072.3,2030.2Z" fill="#000"/>
<line x1="1425.5" y1="2207.7" x2="1173.6" y2="2058.1" stroke="#000" stroke-width="1.7"/><path d="M1162.4,2051.5L1177.4,2055.5L1173.2,2062.8Z" fill="#000"/>
<line x1="1425.5" y1="2207.7" x2="1332.5" y2="2082.2" stroke="#000" stroke-width="1.7"/><path d="M1324.8,2071.8L1337.1,2081.4L1330.4,2086.4Z" fill="#000"/>
<line x1="1425.5" y1="2207.7" x2="1319.8" y2="2125.4" stroke="#000" stroke-width="1.7"/><path d="M1309.5,2117.4L1323.9,2123.3L1318.8,2129.9Z" fill="#000"/>
<line x1="1425.5" y1="2207.7" x2="1320.9" y2="2220.7" stroke="#000" stroke-width="1.7"/><path d="M1308.0,2222.3L1322.4,2216.3L1323.4,2224.6Z" fill="#000"/>
<line x1="1425.5" y1="2207.7" x2="1277.9" y2="2334.0" stroke="#000" stroke-width="1.7"/><path d="M1268.0,2342.5L1276.7,2329.6L1282.1,2335.9Z" fill="#000"/>
<line x1="1425.5" y1="2207.7" x2="1556.9" y2="2262.8" stroke="#000" stroke-width="1.7"/><path d="M1568.9,2267.8L1553.4,2265.9L1556.7,2258.1Z" fill="#000"/>
<line x1="1425.5" y1="2207.7" x2="1816.8" y2="2313.0" stroke="#000" stroke-width="1.7"/><path d="M1829.4,2316.4L1813.8,2316.6L1816.0,2308.4Z" fill="#000"/>
<line x1="1425.5" y1="2207.7" x2="1554.1" y2="1864.5" stroke="#000" stroke-width="1.7"/><path d="M1558.7,1852.3L1557.4,1867.8L1549.5,1864.9Z" fill="#000"/>
<line x1="1425.5" y1="2207.7" x2="1610.0" y2="1820.7" stroke="#000" stroke-width="1.7"/><path d="M1615.6,1809.0L1612.9,1824.3L1605.4,1820.7Z" fill="#000"/>
</g>
<rect x="1031.3" y="1632.7" width="434.7" height="223.3" rx="4" fill="#fff" fill-opacity="0.8" stroke="#d0d0d0" stroke-width="1.4"/>
<circle cx="1059.2" cy="1657.9" r="9.2" fill="#343a78"/><text x="1095.9" y="1665.1" font-size="29" textLength="103.4" lengthAdjust="spacing" xml:space="preserve">Austria</text>
<circle cx="1059.2" cy="1686.6" r="9.2" fill="#5358a8"/><text x="1093.9" y="1693.8" font-size="29" textLength="120.8" lengthAdjust="spacing" xml:space="preserve">Belgium</text>
<circle cx="1059.2" cy="1715.6" r="9.2" fill="#5a7a38"/><text x="1093.9" y="1722.8" font-size="29" textLength="107.4" lengthAdjust="spacing" xml:space="preserve">Finland</text>
<circle cx="1059.2" cy="1744.3" r="9.2" fill="#86a04e"/><text x="1093.9" y="1751.5" font-size="29" textLength="100.2" lengthAdjust="spacing" xml:space="preserve">France</text>
<circle cx="1059.2" cy="1773.6" r="9.2" fill="#b5d06c"/><text x="1093.9" y="1780.8" font-size="29" textLength="136.0" lengthAdjust="spacing" xml:space="preserve">Germany</text>
<circle cx="1059.2" cy="1802.3" r="9.2" fill="#8b6c30"/><text x="1092.9" y="1809.5" font-size="29" textLength="65.8" lengthAdjust="spacing" xml:space="preserve">Italy</text>
<circle cx="1059.2" cy="1835.3" r="9.2" fill="#c6a03a"/><text x="1093.9" y="1842.5" font-size="29" textLength="184.0" lengthAdjust="spacing" xml:space="preserve">Netherlands</text>
<circle cx="1244" cy="1656" r="9.2" fill="#e6c68a"/><text x="1278.7" y="1662.6" font-size="29" textLength="129.6" lengthAdjust="spacing" xml:space="preserve">Romania</text>
<circle cx="1244" cy="1685" r="9.2" fill="#843438"/><text x="1278.7" y="1691.6" font-size="29" textLength="126.8" lengthAdjust="spacing" xml:space="preserve">Slovenia</text>
<circle cx="1244" cy="1713.8" r="9.2" fill="#b0484e"/><text x="1278.7" y="1720.4" font-size="29" textLength="118.0" lengthAdjust="spacing" xml:space="preserve">Sweden</text>
<circle cx="1244" cy="1742.5" r="9.2" fill="#d65f6c"/><text x="1278.7" y="1749.1" font-size="29" textLength="174.6" lengthAdjust="spacing" xml:space="preserve">Switzerland</text>
<rect x="1484.9" y="1635.3" width="279.0" height="104.7" rx="4" fill="#fff" fill-opacity="0.8" stroke="#d0d0d0" stroke-width="1.4"/>
<line x1="1496.6" y1="1685.0" x2="1576.4" y2="1685.0" stroke="#000" stroke-width="1.9" stroke-dasharray="7,3.6"/>
<circle cx="1535.2" cy="1685.0" r="6" fill="#000"/>
<line x1="1496.6" y1="1714.0" x2="1576.4" y2="1714.0" stroke="#000" stroke-width="1.9"/>
<path d="M1535.2,1702.2 L1538.0,1710.9 L1547.2,1710.9 L1539.8,1716.3 L1542.6,1725.0 L1535.2,1719.6 L1527.8,1725.0 L1530.6,1716.3 L1523.2,1710.9 L1532.4,1710.9Z" fill="#000"/>
<text x="1519.4" y="1663.4" font-size="29" textLength="222.4" lengthAdjust="spacing" xml:space="preserve">Sample source</text>
<text x="1581.0" y="1697.4" font-size="29" textLength="159.0" lengthAdjust="spacing" xml:space="preserve">Household</text>
<text x="1581.0" y="1726.2" font-size="29" textLength="101.8" lengthAdjust="spacing" xml:space="preserve">Bakery</text>
<text class="b" transform="translate(1484.7,1793.7) scale(1,1.08)" font-size="30" font-weight="bold" textLength="347.8" lengthAdjust="spacing" xml:space="preserve">Backslopping freq.</text>
<text class="b" transform="translate(1464.6,1849) scale(1,1.08)" font-size="30" font-weight="bold" textLength="240.6" lengthAdjust="spacing" xml:space="preserve">Storage temp.</text>
<text class="b" transform="translate(1025.5,1996.4) scale(1,1.08)" font-size="30" font-weight="bold" textLength="62.6" lengthAdjust="spacing" xml:space="preserve">TTA</text>
<text class="b" transform="translate(998.0,2047.2) scale(1,1.08)" font-size="30" font-weight="bold" textLength="480.4" lengthAdjust="spacing" xml:space="preserve">Wholemeal rye flour prop.</text>
<text class="b" transform="translate(1065.7,2072.6) scale(1,1.08)" font-size="30" font-weight="bold" textLength="493.2" lengthAdjust="spacing" xml:space="preserve">Wholemeal wheat flour prop.</text>
<text class="b" transform="translate(1006.3,2113.3) scale(1,1.08)" font-size="30" font-weight="bold" textLength="306.0" lengthAdjust="spacing" xml:space="preserve">Sour aroma score</text>
<text class="b" transform="translate(1085.0,2231.9) scale(1,1.08)" font-size="30" font-weight="bold" textLength="212.6" lengthAdjust="spacing" xml:space="preserve">Dough yield</text>
<text class="b" transform="translate(1369.5,2289.4) scale(1,1.08)" font-size="30" font-weight="bold" textLength="429.0" lengthAdjust="spacing" xml:space="preserve">Sourdough pH (citizen)</text>
<text class="b" transform="translate(1023.4,2367.7) scale(1,1.08)" font-size="30" font-weight="bold" textLength="276.4" lengthAdjust="spacing" xml:space="preserve">Rye flour prop.</text>
<text class="b" transform="translate(1552.8,2368) scale(1,1.08)" font-size="30" font-weight="bold" textLength="313.8" lengthAdjust="spacing" xml:space="preserve">Wheat flour prop.</text>
<rect x="1024.2" y="1621.1" width="839.7" height="822.3" fill="none" stroke="#262626" stroke-width="1.8"/>
<text x="1142.7" y="2469.9" font-size="29" text-anchor="middle">-4</text>
<text x="1283.5" y="2469.9" font-size="29" text-anchor="middle">-2</text>
<text x="1425.8" y="2469.9" font-size="29" text-anchor="middle">0</text>
<text x="1566.6" y="2469.9" font-size="29" text-anchor="middle">2</text>
<text x="1707.4" y="2469.9" font-size="29" text-anchor="middle">4</text>
<text x="1848.1" y="2469.9" font-size="29" text-anchor="middle">6</text>
<text x="1017.7" y="2362.6" font-size="29" text-anchor="end">-2</text>
<text x="1017.7" y="2214.2" font-size="29" text-anchor="end">0</text>
<text x="1017.7" y="2065.8" font-size="29" text-anchor="end">2</text>
<text x="1017.7" y="1917.4" font-size="29" text-anchor="end">4</text>
<text x="1017.7" y="1769.1" font-size="29" text-anchor="end">6</text>
<path d="M1144.2,2443.4V2448.4 M1285.0,2443.4V2448.4 M1425.8,2443.4V2448.4 M1566.6,2443.4V2448.4 M1707.4,2443.4V2448.4 M1848.1,2443.4V2448.4 M1018.7,2356.1H1024.2 M1018.7,2207.7H1024.2 M1018.7,2059.3H1024.2 M1018.7,1910.9H1024.2 M1018.7,1762.6H1024.2" stroke="#262626" stroke-width="1.5"/>
<text x="1472" y="2492" font-size="29" textLength="196" lengthAdjust="spacing" text-anchor="middle">PC1 (11.01%)</text>
<text transform="translate(978.5,2008) rotate(-90)" font-size="29" textLength="171" lengthAdjust="spacing" text-anchor="middle">PC2 (8.38%)</text>
<text class="nb" x="33" y="43.5" font-size="60" font-weight="bold">a</text><text class="nb" x="869" y="43.4" font-size="60" font-weight="bold">b</text><text class="nb" x="33" y="1580" font-size="60" font-weight="bold">c</text><text class="nb" x="853" y="1580" font-size="60" font-weight="bold">d</text>
</svg>
</body></html>
